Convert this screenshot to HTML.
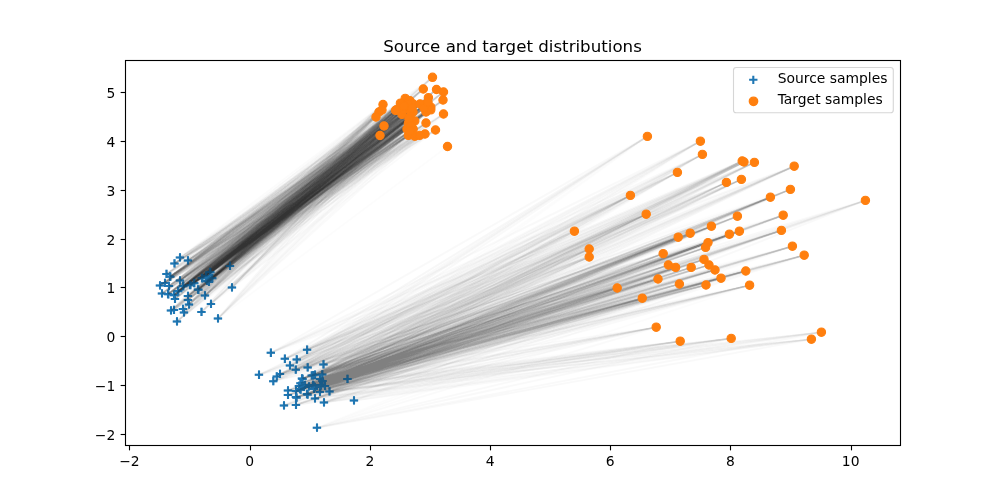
<!DOCTYPE html>
<html><head><meta charset="utf-8"><title>Source and target distributions</title>
<style>html,body{margin:0;padding:0;background:#fff}svg{display:block}text{font-family:'DejaVu Sans','Liberation Sans',sans-serif;fill:#000}</style></head>
<body>
<svg width="1000" height="500" viewBox="0 0 1000 500">
<rect width="1000" height="500" fill="#fff"/>
<defs><clipPath id="c"><rect x="125" y="60" width="775" height="385"/></clipPath></defs>
<g clip-path="url(#c)" stroke="#1f77b4" stroke-width="2.083" fill="none">
<path d="M175.8 257.5h8.3M180 253.3v8.3M183.8 260.5h8.3M188 256.3v8.3M170.3 263.5h8.3M174.5 259.3v8.3M162.3 274h8.3M166.5 269.8v8.3M165.8 276.5h8.3M170 272.3v8.3M175.8 280.5h8.3M180 276.3v8.3M160.8 283h8.3M165 278.8v8.3M155.8 285.5h8.3M160 281.3v8.3M164.8 286h8.3M169 281.8v8.3M227.8 287.5h8.3M232 283.3v8.3M225.8 266h8.3M230 261.8v8.3M205.8 272h8.3M210 267.8v8.3M201.8 276h8.3M206 271.8v8.3M207.8 278h8.3M212 273.8v8.3M204.8 282h8.3M209 277.8v8.3M197.8 278h8.3M202 273.8v8.3M189.8 283h8.3M194 278.8v8.3M185.8 285h8.3M190 280.8v8.3M193.8 289.5h8.3M198 285.3v8.3M178.8 286h8.3M183 281.8v8.3M157.8 293.5h8.3M162 289.3v8.3M206.8 304h8.3M211 299.8v8.3M197.3 312h8.3M201.5 307.8v8.3M213.8 318.5h8.3M218 314.3v8.3M172.8 321.5h8.3M177 317.3v8.3M166.8 310.5h8.3M171 306.3v8.3M169.8 310h8.3M174 305.8v8.3M178.8 309h8.3M183 304.8v8.3M179.8 312.5h8.3M184 308.3v8.3M184.8 304.5h8.3M189 300.3v8.3M163.8 294h8.3M168 289.8v8.3M169.8 295h8.3M174 290.8v8.3M170.8 299h8.3M175 294.8v8.3M173.8 291h8.3M178 286.8v8.3M183.8 296h8.3M188 291.8v8.3M183.8 300h8.3M188 295.8v8.3M200.8 295.5h8.3M205 291.3v8.3M206.2 272.3h8.3M210.4 268.1v8.3M202.1 276.2h8.3M206.3 272v8.3M208.1 278.2h8.3M212.3 274v8.3M170.1 295.3h8.3M174.3 291.1v8.3M198.1 278.3h8.3M202.3 274.1v8.3M174.1 291.3h8.3M178.3 287.1v8.3M202.8 281h8.3M207 276.8v8.3M164.1 294.3h8.3M168.3 290.1v8.3M186.2 285.2h8.3M190.4 281v8.3M190.1 283.2h8.3M194.3 279v8.3M194.2 289.8h8.3M198.4 285.6v8.3M179.1 286.3h8.3M183.3 282.1v8.3M166.1 276.8h8.3M170.3 272.6v8.3M266.7 352.8h8.3M270.9 348.6v8.3M302.9 349.8h8.3M307.1 345.6v8.3M280.7 358.8h8.3M284.9 354.6v8.3M292.6 359.5h8.3M296.8 355.3v8.3M285.8 365.5h8.3M290 361.3v8.3M291.6 369.7h8.3M295.8 365.5v8.3M303.5 367.5h8.3M307.7 363.3v8.3M319.3 364.5h8.3M323.5 360.3v8.3M254.8 374.8h8.3M259 370.6v8.3M275.8 374h8.3M280 369.8v8.3M272.6 376.5h8.3M276.8 372.3v8.3M269.1 381.2h8.3M273.3 377v8.3M297.8 378.5h8.3M302 374.3v8.3M309.1 375.3h8.3M313.3 371.1v8.3M318.1 374.5h8.3M322.3 370.3v8.3M315.8 379h8.3M320 374.8v8.3M296.3 383.3h8.3M300.5 379.1v8.3M343.3 379h8.3M347.5 374.8v8.3M300.8 385h8.3M305 380.8v8.3M308.8 385h8.3M313 380.8v8.3M316.8 385h8.3M321 380.8v8.3M283.8 390.5h8.3M288 386.3v8.3M283.8 395h8.3M288 390.8v8.3M291.8 391h8.3M296 386.8v8.3M295.8 389h8.3M300 384.8v8.3M302.8 394h8.3M307 389.8v8.3M309.8 389h8.3M314 384.8v8.3M315.8 392h8.3M320 387.8v8.3M325.3 391.5h8.3M329.5 387.3v8.3M310.8 398.5h8.3M315 394.3v8.3M291.8 397h8.3M296 392.8v8.3M279.8 405.5h8.3M284 401.3v8.3M291.8 405h8.3M296 400.8v8.3M319.8 402.5h8.3M324 398.3v8.3M349.8 400.5h8.3M354 396.3v8.3M312.8 427.7h8.3M317 423.5v8.3M294.8 386h8.3M299 381.8v8.3M299.8 387h8.3M304 382.8v8.3M304.8 386.5h8.3M309 382.3v8.3M310.8 387h8.3M315 382.8v8.3M316.3 386.5h8.3M320.5 382.3v8.3M320.8 386h8.3M325 381.8v8.3M318.3 381h8.3M322.5 376.8v8.3M307.6 375.5h8.3M311.8 371.3v8.3M310.8 374.8h8.3M315 370.6v8.3M298.4 379h8.3M302.6 374.8v8.3M309.4 385.6h8.3M313.6 381.4v8.3M292.4 397.6h8.3M296.6 393.4v8.3M296.4 389.6h8.3M300.6 385.4v8.3M303.4 394.6h8.3M307.6 390.4v8.3"/>
</g>
<defs><filter id="fu" filterUnits="userSpaceOnUse" x="0" y="0" width="1000" height="500" color-interpolation-filters="sRGB"><feComponentTransfer><feFuncA type="table" tableValues="0 0.05 0.1 0.15 0.2 0.25 0.3 0.35 0.4 0.45 0.5 0.55 0.6 0.65 0.7 0.75 0.8 0.8 0.8 0.8 0.8"/></feComponentTransfer></filter><filter id="fl" filterUnits="userSpaceOnUse" x="0" y="0" width="1000" height="500" color-interpolation-filters="sRGB"><feComponentTransfer><feFuncA type="table" tableValues="0 0.05 0.1 0.15 0.2 0.25 0.3 0.35 0.4 0.45 0.5 0.5 0.5 0.5 0.5 0.5 0.5 0.5 0.5 0.5 0.5"/></feComponentTransfer></filter></defs>
<g clip-path="url(#c)">
<g filter="url(#fu)" fill="none" stroke="#000" stroke-width="2.083" stroke-linecap="butt">
<g stroke-opacity=".004"><path d="M180 257.5L379 112"/><path d="M180 257.5L407 129"/></g>
<g stroke-opacity=".008"><path d="M180 257.5L436.5 89.5"/><path d="M180 257.5L384 126"/><path d="M180 257.5L395.6 110.4"/><path d="M180 257.5L413 112"/><path d="M180 257.5L402 114.4"/><path d="M180 257.5L396.4 109.8"/><path d="M180 257.5L408.4 123.4"/><path d="M180 257.5L412 133"/><path d="M174.5 263.5L443.5 114"/></g>
<g stroke-opacity=".012"><path d="M180 257.5L426 123"/><path d="M180 257.5L405.2 98.4"/><path d="M180 257.5L410 100.8"/><path d="M180 257.5L413.2 104"/><path d="M180 257.5L400.4 103.2"/><path d="M180 257.5L406 108"/><path d="M180 257.5L410 109.8"/><path d="M180 257.5L408.4 135.4"/><path d="M180 257.5L412 108"/><path d="M188 260.5L419.6 135.4"/><path d="M174.5 263.5L413.2 129"/><path d="M218 318.5L447.5 146.5"/></g>
<g stroke-opacity=".016"><path d="M180 257.5L423.3 89"/><path d="M180 257.5L383 104.5"/><path d="M180 257.5L382 110"/><path d="M180 257.5L428.4 97.6"/><path d="M174.5 263.5L432.5 77.3"/><path d="M174.5 263.5L410 117"/><path d="M174.5 263.5L409 119"/><path d="M166.5 274L425 134"/><path d="M166.5 274L414.8 136.2"/></g>
<g stroke-opacity=".02"><path d="M188 260.5L423.3 89"/><path d="M188 260.5L443.5 92"/><path d="M188 260.5L379 112"/><path d="M188 260.5L435.5 130"/><path d="M188 260.5L428.4 97.6"/><path d="M188 260.5L410 117"/><path d="M188 260.5L407 129"/><path d="M188 260.5L410 131"/><path d="M174.5 263.5L403.6 109.8"/><path d="M174.5 263.5L411 126"/><path d="M166.5 274L384 126"/><path d="M166.5 274L376 117"/><path d="M166.5 274L413.2 129"/><path d="M166.5 274L409 119"/><path d="M170 276.5L423.3 89"/><path d="M170 276.5L443 100"/><path d="M170 276.5L443.5 114"/><path d="M170 276.5L380 135.5"/><path d="M170 276.5L395.6 110.4"/><path d="M170 276.5L426 112"/><path d="M170 276.5L402 114.4"/><path d="M170 276.5L396.4 109.8"/><path d="M170 276.5L414.8 121"/><path d="M170 276.5L412 133"/><path d="M180 280.5L443 100"/><path d="M180 280.5L443.5 114"/><path d="M180 280.5L384 126"/><path d="M180 280.5L405.2 98.4"/><path d="M180 280.5L410 100.8"/><path d="M180 280.5L426 104"/><path d="M180 280.5L426 112"/><path d="M165 283L426 112"/><path d="M160 285.5L443.5 92"/><path d="M160 285.5L380 135.5"/><path d="M160 285.5L382 110"/><path d="M160 285.5L420 104"/><path d="M169 286L423.3 89"/><path d="M169 286L436.5 89.5"/><path d="M169 286L435.5 130"/><path d="M169 286L424 108"/><path d="M169 286L410 131"/><path d="M232 287.5L425 134"/><path d="M232 287.5L400.4 103.2"/><path d="M232 287.5L413 112"/><path d="M232 287.5L402 114.4"/><path d="M232 287.5L420 104"/><path d="M232 287.5L424 108"/><path d="M230 266L443.5 92"/><path d="M230 266L383 104.5"/><path d="M230 266L426 123"/><path d="M230 266L400.4 103.2"/><path d="M230 266L428.4 97.6"/><path d="M230 266L408 104"/><path d="M210 272L443.5 114"/><path d="M210 272L376 117"/><path d="M210 272L413.2 129"/><path d="M210 272L408.4 135.4"/><path d="M206 276L443.5 114"/><path d="M206 276L384 126"/><path d="M206 276L400.4 103.2"/><path d="M206 276L408.4 135.4"/><path d="M212 278L376 117"/><path d="M212 278L395.6 110.4"/><path d="M212 278L396.4 109.8"/><path d="M212 278L414.8 136.2"/><path d="M212 278L412 133"/><path d="M209 282L423.3 89"/><path d="M209 282L435.5 130"/><path d="M209 282L413.2 104"/><path d="M209 282L406 108"/><path d="M209 282L408.4 123.4"/><path d="M209 282L408.4 135.4"/><path d="M209 282L414.8 121"/><path d="M202 278L425 134"/><path d="M202 278L382 110"/><path d="M202 278L428.4 97.6"/><path d="M202 278L407 129"/><path d="M194 283L423.3 89"/><path d="M194 283L443 100"/><path d="M194 283L379 112"/><path d="M194 283L435.5 130"/><path d="M194 283L380 135.5"/><path d="M194 283L405.2 98.4"/><path d="M190 285L425 134"/><path d="M198 289.5L423.3 89"/><path d="M198 289.5L443.5 92"/><path d="M198 289.5L379 112"/><path d="M198 289.5L443.5 114"/><path d="M198 289.5L395.6 110.4"/><path d="M198 289.5L396.4 109.8"/><path d="M198 289.5L413.2 129"/><path d="M198 289.5L410 131"/><path d="M183 286L443.5 92"/><path d="M183 286L425 134"/><path d="M183 286L430.8 107.2"/><path d="M183 286L430.8 109.8"/><path d="M183 286L428 102"/><path d="M162 293.5L443.5 92"/><path d="M162 293.5L426 123"/><path d="M162 293.5L384 126"/><path d="M162 293.5L380 135.5"/><path d="M162 293.5L420 104"/><path d="M162 293.5L408.4 135.4"/><path d="M162 293.5L424 108"/><path d="M211 304L435.5 130"/><path d="M211 304L382 110"/><path d="M201.5 312L379 112"/><path d="M201.5 312L405.2 98.4"/><path d="M201.5 312L426 104"/><path d="M201.5 312L426 112"/><path d="M201.5 312L428 102"/><path d="M201.5 312L410 131"/><path d="M218 318.5L443 100"/><path d="M218 318.5L443.5 114"/><path d="M218 318.5L413.2 104"/><path d="M218 318.5L410 109.8"/><path d="M218 318.5L430.8 109.8"/><path d="M218 318.5L414.8 136.2"/><path d="M218 318.5L410 117"/><path d="M218 318.5L407 129"/><path d="M218 318.5L412 133"/><path d="M177 321.5L383 104.5"/><path d="M177 321.5L395.6 110.4"/><path d="M177 321.5L430.8 107.2"/><path d="M177 321.5L406 108"/><path d="M177 321.5L430.8 109.8"/><path d="M177 321.5L408.4 135.4"/><path d="M177 321.5L419.6 135.4"/><path d="M177 321.5L412 108"/><path d="M177 321.5L411 126"/><path d="M171 310.5L383 104.5"/><path d="M171 310.5L376 117"/><path d="M171 310.5L382 110"/><path d="M171 310.5L400.4 103.2"/><path d="M171 310.5L430.8 109.8"/><path d="M171 310.5L420 104"/><path d="M171 310.5L413.2 129"/><path d="M171 310.5L412 133"/><path d="M171 310.5L411 126"/><path d="M171 310.5L410 131"/><path d="M174 310L443.5 92"/><path d="M174 310L405.2 98.4"/><path d="M174 310L414.8 136.2"/><path d="M174 310L404 106"/><path d="M183 309L376 117"/><path d="M183 309L382 110"/><path d="M183 309L404 106"/><path d="M184 312.5L425 134"/><path d="M184 312.5L380 135.5"/><path d="M184 312.5L382 110"/><path d="M184 312.5L413.2 104"/><path d="M184 312.5L428.4 97.6"/><path d="M184 312.5L403.6 109.8"/><path d="M184 312.5L410 109.8"/><path d="M184 312.5L413.2 129"/><path d="M184 312.5L408.4 135.4"/><path d="M184 312.5L414.8 136.2"/><path d="M189 304.5L379 112"/><path d="M189 304.5L435.5 130"/><path d="M189 304.5L419.6 135.4"/><path d="M189 304.5L424 108"/><path d="M189 304.5L428 102"/><path d="M168 294L443.5 114"/><path d="M168 294L428.4 97.6"/><path d="M175 299L435.5 130"/><path d="M175 299L412 133"/><path d="M178 291L432.5 77.3"/><path d="M178 291L443.5 114"/><path d="M178 291L428.4 97.6"/><path d="M188 296L436.5 89.5"/><path d="M188 296L383 104.5"/><path d="M188 296L410 100.8"/><path d="M188 296L400.4 103.2"/><path d="M188 296L396.4 109.8"/><path d="M188 296L408.4 135.4"/><path d="M188 296L414.8 136.2"/><path d="M188 296L419.6 135.4"/><path d="M188 296L408 104"/><path d="M188 296L404 106"/><path d="M188 296L410 131"/><path d="M188 300L443 100"/><path d="M188 300L383 104.5"/><path d="M188 300L425 134"/><path d="M188 300L384 126"/><path d="M205 295.5L436.5 89.5"/><path d="M205 295.5L443.5 92"/><path d="M205 295.5L443.5 114"/><path d="M205 295.5L426 123"/><path d="M205 295.5L384 126"/><path d="M205 295.5L376 117"/><path d="M205 295.5L405.2 98.4"/><path d="M205 295.5L426 104"/><path d="M205 295.5L430.8 107.2"/><path d="M205 295.5L408.4 123.4"/><path d="M205 295.5L419.6 135.4"/><path d="M205 295.5L410 117"/><path d="M205 295.5L414.8 121"/><path d="M205 295.5L409 119"/><path d="M205 295.5L412 108"/><path d="M210.4 272.3L436.5 89.5"/><path d="M210.4 272.3L443.5 92"/><path d="M210.4 272.3L407 129"/><path d="M210.4 272.3L411 126"/><path d="M210.4 272.3L410 131"/><path d="M206.3 276.2L380 135.5"/><path d="M206.3 276.2L405.2 98.4"/><path d="M206.3 276.2L410 100.8"/><path d="M212.3 278.2L383 104.5"/><path d="M212.3 278.2L443.5 114"/><path d="M212.3 278.2L425 134"/><path d="M212.3 278.2L405.2 98.4"/><path d="M212.3 278.2L396.4 109.8"/><path d="M212.3 278.2L413.2 129"/><path d="M212.3 278.2L419.6 135.4"/><path d="M212.3 278.2L407 129"/><path d="M174.3 295.3L443.5 92"/><path d="M174.3 295.3L414.8 136.2"/><path d="M174.3 295.3L419.6 135.4"/><path d="M202.3 278.3L436.5 89.5"/><path d="M202.3 278.3L379 112"/><path d="M202.3 278.3L426 123"/><path d="M202.3 278.3L400.4 103.2"/><path d="M202.3 278.3L414.8 136.2"/><path d="M178.3 291.3L435.5 130"/><path d="M178.3 291.3L426 123"/><path d="M178.3 291.3L419.6 135.4"/><path d="M178.3 291.3L412 133"/><path d="M207 281L436.5 89.5"/><path d="M207 281L435.5 130"/><path d="M207 281L413.2 104"/><path d="M207 281L430.8 109.8"/><path d="M207 281L408 104"/><path d="M207 281L411 126"/><path d="M168.3 294.3L432.5 77.3"/><path d="M168.3 294.3L384 126"/><path d="M168.3 294.3L428.4 97.6"/><path d="M190.4 285.2L432.5 77.3"/><path d="M194.3 283.2L432.5 77.3"/><path d="M194.3 283.2L423.3 89"/><path d="M194.3 283.2L436.5 89.5"/><path d="M194.3 283.2L426 123"/><path d="M194.3 283.2L425 134"/><path d="M194.3 283.2L419.6 135.4"/><path d="M194.3 283.2L412 133"/><path d="M194.3 283.2L411 126"/><path d="M198.4 289.8L379 112"/><path d="M198.4 289.8L382 110"/><path d="M198.4 289.8L426 112"/><path d="M183.3 286.3L435.5 130"/><path d="M183.3 286.3L414.8 136.2"/><path d="M170.3 276.8L426 112"/><path d="M170.3 276.8L419.6 135.4"/><path d="M170.3 276.8L424 108"/></g>
<g stroke-opacity=".024"><path d="M180 257.5L426 104"/><path d="M180 257.5L404 106"/><path d="M188 260.5L436.5 89.5"/><path d="M188 260.5L405.2 98.4"/><path d="M188 260.5L426 104"/><path d="M188 260.5L406 108"/><path d="M188 260.5L410 109.8"/><path d="M188 260.5L420 104"/><path d="M188 260.5L408 104"/><path d="M188 260.5L412 108"/><path d="M188 260.5L404 106"/><path d="M174.5 263.5L405.2 98.4"/><path d="M174.5 263.5L410 100.8"/><path d="M174.5 263.5L400.4 103.2"/><path d="M174.5 263.5L395.6 110.4"/><path d="M174.5 263.5L430.8 107.2"/><path d="M174.5 263.5L426 112"/><path d="M174.5 263.5L413 112"/><path d="M174.5 263.5L402 114.4"/><path d="M174.5 263.5L396.4 109.8"/><path d="M174.5 263.5L410 109.8"/><path d="M174.5 263.5L430.8 109.8"/><path d="M174.5 263.5L420 104"/><path d="M174.5 263.5L414.8 121"/><path d="M174.5 263.5L408 104"/><path d="M174.5 263.5L424 108"/><path d="M174.5 263.5L428 102"/><path d="M166.5 274L443 100"/><path d="M166.5 274L383 104.5"/><path d="M166.5 274L426 123"/><path d="M166.5 274L382 110"/><path d="M166.5 274L413.2 104"/><path d="M166.5 274L406 108"/><path d="M166.5 274L403.6 109.8"/><path d="M166.5 274L408.4 123.4"/><path d="M166.5 274L412 108"/><path d="M170 276.5L379 112"/><path d="M170 276.5L410 100.8"/><path d="M170 276.5L413.2 104"/><path d="M170 276.5L400.4 103.2"/><path d="M170 276.5L428.4 97.6"/><path d="M170 276.5L413 112"/><path d="M170 276.5L403.6 109.8"/><path d="M170 276.5L430.8 109.8"/><path d="M170 276.5L420 104"/><path d="M170 276.5L408.4 123.4"/><path d="M170 276.5L414.8 136.2"/><path d="M170 276.5L410 117"/><path d="M170 276.5L408 104"/><path d="M170 276.5L424 108"/><path d="M170 276.5L411 126"/><path d="M170 276.5L410 131"/><path d="M180 280.5L425 134"/><path d="M180 280.5L376 117"/><path d="M180 280.5L413.2 104"/><path d="M180 280.5L400.4 103.2"/><path d="M180 280.5L395.6 110.4"/><path d="M180 280.5L402 114.4"/><path d="M180 280.5L420 104"/><path d="M180 280.5L408.4 123.4"/><path d="M180 280.5L419.6 135.4"/><path d="M180 280.5L410 117"/><path d="M180 280.5L414.8 121"/><path d="M180 280.5L407 129"/><path d="M180 280.5L408 104"/><path d="M165 283L379 112"/><path d="M165 283L426 123"/><path d="M165 283L376 117"/><path d="M165 283L382 110"/><path d="M165 283L413.2 104"/><path d="M165 283L400.4 103.2"/><path d="M165 283L395.6 110.4"/><path d="M165 283L430.8 107.2"/><path d="M165 283L406 108"/><path d="M165 283L396.4 109.8"/><path d="M165 283L413.2 129"/><path d="M165 283L408.4 135.4"/><path d="M165 283L414.8 121"/><path d="M165 283L408 104"/><path d="M165 283L411 126"/><path d="M160 285.5L432.5 77.3"/><path d="M160 285.5L383 104.5"/><path d="M160 285.5L425 134"/><path d="M160 285.5L376 117"/><path d="M160 285.5L405.2 98.4"/><path d="M160 285.5L413.2 104"/><path d="M160 285.5L400.4 103.2"/><path d="M160 285.5L413 112"/><path d="M160 285.5L402 114.4"/><path d="M160 285.5L403.6 109.8"/><path d="M160 285.5L408.4 123.4"/><path d="M160 285.5L419.6 135.4"/><path d="M160 285.5L410 117"/><path d="M160 285.5L414.8 121"/><path d="M160 285.5L407 129"/><path d="M160 285.5L409 119"/><path d="M160 285.5L404 106"/><path d="M160 285.5L428 102"/><path d="M169 286L426 123"/><path d="M169 286L405.2 98.4"/><path d="M169 286L410 100.8"/><path d="M169 286L428.4 97.6"/><path d="M169 286L413 112"/><path d="M169 286L402 114.4"/><path d="M169 286L403.6 109.8"/><path d="M169 286L410 109.8"/><path d="M169 286L430.8 109.8"/><path d="M169 286L413.2 129"/><path d="M169 286L414.8 136.2"/><path d="M169 286L407 129"/><path d="M169 286L412 133"/><path d="M169 286L409 119"/><path d="M169 286L408 104"/><path d="M169 286L412 108"/><path d="M169 286L404 106"/><path d="M169 286L411 126"/><path d="M232 287.5L432.5 77.3"/><path d="M232 287.5L426 123"/><path d="M230 266L423.3 89"/><path d="M230 266L436.5 89.5"/><path d="M230 266L426 112"/><path d="M230 266L396.4 109.8"/><path d="M230 266L410 109.8"/><path d="M230 266L430.8 109.8"/><path d="M230 266L411 126"/><path d="M210 272L432.5 77.3"/><path d="M210 272L423.3 89"/><path d="M210 272L443 100"/><path d="M210 272L413.2 104"/><path d="M210 272L428.4 97.6"/><path d="M210 272L406 108"/><path d="M210 272L403.6 109.8"/><path d="M210 272L414.8 121"/><path d="M206 276L426 123"/><path d="M206 276L405.2 98.4"/><path d="M206 276L402 114.4"/><path d="M206 276L408 104"/><path d="M206 276L412 108"/><path d="M206 276L404 106"/><path d="M206 276L411 126"/><path d="M206 276L410 131"/><path d="M212 278L432.5 77.3"/><path d="M212 278L443.5 92"/><path d="M212 278L443 100"/><path d="M212 278L400.4 103.2"/><path d="M212 278L406 108"/><path d="M212 278L403.6 109.8"/><path d="M212 278L410 117"/><path d="M212 278L404 106"/><path d="M209 282L443 100"/><path d="M209 282L428.4 97.6"/><path d="M209 282L424 108"/><path d="M209 282L428 102"/><path d="M202 278L443.5 92"/><path d="M202 278L410 100.8"/><path d="M202 278L413.2 104"/><path d="M202 278L400.4 103.2"/><path d="M202 278L395.6 110.4"/><path d="M202 278L406 108"/><path d="M202 278L402 114.4"/><path d="M202 278L396.4 109.8"/><path d="M202 278L408.4 123.4"/><path d="M202 278L413.2 129"/><path d="M202 278L412 108"/><path d="M202 278L428 102"/><path d="M194 283L443.5 92"/><path d="M194 283L382 110"/><path d="M194 283L400.4 103.2"/><path d="M194 283L428.4 97.6"/><path d="M194 283L402 114.4"/><path d="M194 283L403.6 109.8"/><path d="M194 283L413.2 129"/><path d="M194 283L404 106"/><path d="M194 283L411 126"/><path d="M190 285L436.5 89.5"/><path d="M190 285L443 100"/><path d="M190 285L384 126"/><path d="M190 285L410 100.8"/><path d="M190 285L395.6 110.4"/><path d="M190 285L430.8 107.2"/><path d="M190 285L402 114.4"/><path d="M190 285L396.4 109.8"/><path d="M190 285L403.6 109.8"/><path d="M190 285L407 129"/><path d="M190 285L412 133"/><path d="M190 285L428 102"/><path d="M198 289.5L410 100.8"/><path d="M198 289.5L400.4 103.2"/><path d="M198 289.5L408.4 123.4"/><path d="M198 289.5L408 104"/><path d="M183 286L423.3 89"/><path d="M183 286L443 100"/><path d="M183 286L383 104.5"/><path d="M183 286L426 123"/><path d="M183 286L380 135.5"/><path d="M183 286L426 104"/><path d="M183 286L404 106"/><path d="M183 286L424 108"/><path d="M183 286L410 131"/><path d="M162 293.5L383 104.5"/><path d="M162 293.5L396.4 109.8"/><path d="M162 293.5L413.2 129"/><path d="M162 293.5L410 117"/><path d="M162 293.5L412 133"/><path d="M162 293.5L409 119"/><path d="M162 293.5L411 126"/><path d="M162 293.5L410 131"/><path d="M211 304L408.4 123.4"/><path d="M211 304L413.2 129"/><path d="M211 304L409 119"/><path d="M201.5 312L414.8 121"/><path d="M201.5 312L411 126"/><path d="M177 321.5L407 129"/><path d="M177 321.5L410 131"/><path d="M171 310.5L379 112"/><path d="M171 310.5L426 104"/><path d="M171 310.5L403.6 109.8"/><path d="M171 310.5L414.8 121"/><path d="M171 310.5L409 119"/><path d="M174 310L426 123"/><path d="M174 310L413.2 104"/><path d="M174 310L426 104"/><path d="M174 310L406 108"/><path d="M174 310L403.6 109.8"/><path d="M174 310L420 104"/><path d="M174 310L407 129"/><path d="M174 310L412 133"/><path d="M183 309L405.2 98.4"/><path d="M183 309L413.2 104"/><path d="M183 309L395.6 110.4"/><path d="M183 309L406 108"/><path d="M183 309L403.6 109.8"/><path d="M183 309L420 104"/><path d="M183 309L408.4 135.4"/><path d="M183 309L407 129"/><path d="M184 312.5L400.4 103.2"/><path d="M184 312.5L412 133"/><path d="M189 304.5L380 135.5"/><path d="M189 304.5L410 100.8"/><path d="M189 304.5L402 114.4"/><path d="M189 304.5L410 109.8"/><path d="M189 304.5L413.2 129"/><path d="M189 304.5L410 117"/><path d="M189 304.5L414.8 121"/><path d="M189 304.5L409 119"/><path d="M189 304.5L412 108"/><path d="M168 294L436.5 89.5"/><path d="M168 294L379 112"/><path d="M168 294L405.2 98.4"/><path d="M168 294L410 100.8"/><path d="M168 294L400.4 103.2"/><path d="M168 294L426 104"/><path d="M168 294L406 108"/><path d="M168 294L413 112"/><path d="M168 294L396.4 109.8"/><path d="M168 294L408.4 123.4"/><path d="M168 294L414.8 121"/><path d="M168 294L407 129"/><path d="M168 294L412 108"/><path d="M168 294L404 106"/><path d="M168 294L410 131"/><path d="M174 295L436.5 89.5"/><path d="M174 295L383 104.5"/><path d="M174 295L379 112"/><path d="M174 295L413.2 104"/><path d="M174 295L395.6 110.4"/><path d="M174 295L426 104"/><path d="M174 295L430.8 107.2"/><path d="M174 295L426 112"/><path d="M174 295L406 108"/><path d="M174 295L413 112"/><path d="M174 295L410 109.8"/><path d="M174 295L430.8 109.8"/><path d="M174 295L420 104"/><path d="M174 295L413.2 129"/><path d="M174 295L424 108"/><path d="M174 295L410 131"/><path d="M175 299L383 104.5"/><path d="M175 299L384 126"/><path d="M175 299L376 117"/><path d="M175 299L410 100.8"/><path d="M175 299L395.6 110.4"/><path d="M175 299L406 108"/><path d="M175 299L396.4 109.8"/><path d="M175 299L410 109.8"/><path d="M175 299L408.4 123.4"/><path d="M175 299L407 129"/><path d="M175 299L408 104"/><path d="M175 299L404 106"/><path d="M178 291L426 123"/><path d="M178 291L376 117"/><path d="M178 291L405.2 98.4"/><path d="M178 291L410 100.8"/><path d="M178 291L413.2 104"/><path d="M178 291L395.6 110.4"/><path d="M178 291L426 112"/><path d="M178 291L430.8 109.8"/><path d="M178 291L407 129"/><path d="M178 291L408 104"/><path d="M178 291L412 108"/><path d="M178 291L404 106"/><path d="M178 291L428 102"/><path d="M178 291L410 131"/><path d="M188 296L384 126"/><path d="M188 296L376 117"/><path d="M188 296L382 110"/><path d="M188 296L413.2 104"/><path d="M188 296L395.6 110.4"/><path d="M188 296L426 112"/><path d="M188 296L406 108"/><path d="M188 300L426 123"/><path d="M188 300L410 100.8"/><path d="M188 300L406 108"/><path d="M188 300L408.4 123.4"/><path d="M188 300L408 104"/><path d="M188 300L412 108"/><path d="M188 300L411 126"/><path d="M188 300L410 131"/><path d="M205 295.5L423.3 89"/><path d="M205 295.5L428.4 97.6"/><path d="M205 295.5L426 112"/><path d="M205 295.5L413 112"/><path d="M205 295.5L402 114.4"/><path d="M210.4 272.3L423.3 89"/><path d="M210.4 272.3L410 100.8"/><path d="M210.4 272.3L413.2 104"/><path d="M210.4 272.3L395.6 110.4"/><path d="M210.4 272.3L428.4 97.6"/><path d="M210.4 272.3L406 108"/><path d="M210.4 272.3L396.4 109.8"/><path d="M210.4 272.3L410 109.8"/><path d="M210.4 272.3L414.8 121"/><path d="M210.4 272.3L404 106"/><path d="M206.3 276.2L423.3 89"/><path d="M206.3 276.2L406 108"/><path d="M206.3 276.2L403.6 109.8"/><path d="M206.3 276.2L420 104"/><path d="M206.3 276.2L408.4 123.4"/><path d="M206.3 276.2L413.2 129"/><path d="M206.3 276.2L410 117"/><path d="M206.3 276.2L414.8 121"/><path d="M206.3 276.2L409 119"/><path d="M206.3 276.2L408 104"/><path d="M212.3 278.2L423.3 89"/><path d="M212.3 278.2L380 135.5"/><path d="M212.3 278.2L413.2 104"/><path d="M212.3 278.2L413 112"/><path d="M212.3 278.2L410 109.8"/><path d="M212.3 278.2L408 104"/><path d="M212.3 278.2L404 106"/><path d="M174.3 295.3L423.3 89"/><path d="M174.3 295.3L426 123"/><path d="M174.3 295.3L384 126"/><path d="M174.3 295.3L382 110"/><path d="M174.3 295.3L405.2 98.4"/><path d="M174.3 295.3L410 100.8"/><path d="M174.3 295.3L400.4 103.2"/><path d="M174.3 295.3L396.4 109.8"/><path d="M174.3 295.3L413.2 129"/><path d="M174.3 295.3L408.4 135.4"/><path d="M174.3 295.3L408 104"/><path d="M174.3 295.3L412 108"/><path d="M174.3 295.3L404 106"/><path d="M202.3 278.3L443 100"/><path d="M202.3 278.3L383 104.5"/><path d="M202.3 278.3L405.2 98.4"/><path d="M202.3 278.3L410 100.8"/><path d="M202.3 278.3L403.6 109.8"/><path d="M202.3 278.3L410 109.8"/><path d="M202.3 278.3L409 119"/><path d="M202.3 278.3L408 104"/><path d="M202.3 278.3L412 108"/><path d="M202.3 278.3L404 106"/><path d="M178.3 291.3L384 126"/><path d="M178.3 291.3L376 117"/><path d="M178.3 291.3L382 110"/><path d="M178.3 291.3L400.4 103.2"/><path d="M178.3 291.3L428.4 97.6"/><path d="M178.3 291.3L426 104"/><path d="M178.3 291.3L406 108"/><path d="M178.3 291.3L396.4 109.8"/><path d="M178.3 291.3L408 104"/><path d="M178.3 291.3L404 106"/><path d="M178.3 291.3L424 108"/><path d="M207 281L432.5 77.3"/><path d="M207 281L426 123"/><path d="M207 281L380 135.5"/><path d="M207 281L405.2 98.4"/><path d="M207 281L428.4 97.6"/><path d="M207 281L402 114.4"/><path d="M207 281L407 129"/><path d="M207 281L424 108"/><path d="M207 281L428 102"/><path d="M168.3 294.3L382 110"/><path d="M168.3 294.3L413.2 104"/><path d="M168.3 294.3L395.6 110.4"/><path d="M168.3 294.3L426 112"/><path d="M168.3 294.3L402 114.4"/><path d="M168.3 294.3L410 109.8"/><path d="M168.3 294.3L420 104"/><path d="M168.3 294.3L413.2 129"/><path d="M168.3 294.3L408.4 135.4"/><path d="M168.3 294.3L414.8 136.2"/><path d="M168.3 294.3L412 133"/><path d="M168.3 294.3L408 104"/><path d="M168.3 294.3L424 108"/><path d="M190.4 285.2L383 104.5"/><path d="M190.4 285.2L379 112"/><path d="M190.4 285.2L380 135.5"/><path d="M190.4 285.2L405.2 98.4"/><path d="M190.4 285.2L400.4 103.2"/><path d="M190.4 285.2L428.4 97.6"/><path d="M190.4 285.2L408 104"/><path d="M190.4 285.2L410 131"/><path d="M194.3 283.2L405.2 98.4"/><path d="M194.3 283.2L403.6 109.8"/><path d="M194.3 283.2L408.4 123.4"/><path d="M194.3 283.2L407 129"/><path d="M198.4 289.8L436.5 89.5"/><path d="M198.4 289.8L410 100.8"/><path d="M198.4 289.8L400.4 103.2"/><path d="M198.4 289.8L430.8 107.2"/><path d="M198.4 289.8L404 106"/><path d="M183.3 286.3L423.3 89"/><path d="M183.3 286.3L379 112"/><path d="M183.3 286.3L380 135.5"/><path d="M183.3 286.3L405.2 98.4"/><path d="M183.3 286.3L410 100.8"/><path d="M183.3 286.3L413.2 104"/><path d="M183.3 286.3L400.4 103.2"/><path d="M183.3 286.3L395.6 110.4"/><path d="M183.3 286.3L430.8 107.2"/><path d="M183.3 286.3L396.4 109.8"/><path d="M183.3 286.3L420 104"/><path d="M183.3 286.3L413.2 129"/><path d="M183.3 286.3L408.4 135.4"/><path d="M183.3 286.3L407 129"/><path d="M183.3 286.3L412 133"/><path d="M170.3 276.8L384 126"/><path d="M170.3 276.8L410 100.8"/><path d="M170.3 276.8L395.6 110.4"/><path d="M170.3 276.8L430.8 107.2"/><path d="M170.3 276.8L406 108"/><path d="M170.3 276.8L396.4 109.8"/><path d="M170.3 276.8L410 109.8"/><path d="M170.3 276.8L408.4 135.4"/><path d="M170.3 276.8L412 133"/><path d="M170.3 276.8L409 119"/><path d="M170.3 276.8L412 108"/><path d="M170.3 276.8L404 106"/></g>
<g stroke-opacity=".028"><path d="M170 276.5L428 102"/><path d="M180 280.5L430.8 107.2"/><path d="M180 280.5L403.6 109.8"/><path d="M180 280.5L412 108"/><path d="M180 280.5L428 102"/><path d="M232 287.5L410 100.8"/><path d="M232 287.5L403.6 109.8"/><path d="M232 287.5L408 104"/><path d="M230 266L410 100.8"/><path d="M230 266L430.8 107.2"/><path d="M230 266L428 102"/><path d="M210 272L402 114.4"/><path d="M210 272L430.8 109.8"/><path d="M210 272L410 117"/><path d="M210 272L409 119"/><path d="M206 276L443.5 92"/><path d="M206 276L426 112"/><path d="M206 276L396.4 109.8"/><path d="M212 278L413 112"/><path d="M212 278L402 114.4"/><path d="M212 278L410 109.8"/><path d="M212 278L412 108"/><path d="M209 282L436.5 89.5"/><path d="M209 282L395.6 110.4"/><path d="M209 282L403.6 109.8"/><path d="M209 282L420 104"/><path d="M209 282L409 119"/><path d="M202 278L426 104"/><path d="M202 278L426 112"/><path d="M202 278L413 112"/><path d="M202 278L420 104"/><path d="M202 278L409 119"/><path d="M194 283L430.8 107.2"/><path d="M190 285L420 104"/><path d="M198 289.5L426 112"/><path d="M198 289.5L410 109.8"/><path d="M198 289.5L430.8 109.8"/><path d="M198 289.5L410 117"/><path d="M198 289.5L412 108"/><path d="M198 289.5L428 102"/><path d="M183 286L403.6 109.8"/><path d="M183 286L410 117"/><path d="M183 286L409 119"/><path d="M183 286L411 126"/><path d="M162 293.5L382 110"/><path d="M162 293.5L406 108"/><path d="M162 293.5L413 112"/><path d="M162 293.5L410 109.8"/><path d="M201.5 312L395.6 110.4"/><path d="M218 318.5L404 106"/><path d="M177 321.5L396.4 109.8"/><path d="M171 310.5L410 109.8"/><path d="M171 310.5L408.4 123.4"/><path d="M171 310.5L412 108"/><path d="M183 309L384 126"/><path d="M184 312.5L408 104"/><path d="M189 304.5L404 106"/><path d="M168 294L430.8 109.8"/><path d="M174 295L403.6 109.8"/><path d="M174 295L428 102"/><path d="M175 299L420 104"/><path d="M175 299L414.8 121"/><path d="M178 291L408.4 135.4"/><path d="M188 296L428.4 97.6"/><path d="M188 296L430.8 107.2"/><path d="M188 296L402 114.4"/><path d="M188 296L408.4 123.4"/><path d="M188 296L414.8 121"/><path d="M188 296L412 108"/><path d="M188 300L405.2 98.4"/><path d="M188 300L426 104"/><path d="M188 300L410 117"/><path d="M188 300L424 108"/><path d="M205 295.5L406 108"/><path d="M205 295.5L396.4 109.8"/><path d="M205 295.5L420 104"/><path d="M210.4 272.3L443 100"/><path d="M210.4 272.3L430.8 107.2"/><path d="M210.4 272.3L413 112"/><path d="M210.4 272.3L430.8 109.8"/><path d="M210.4 272.3L420 104"/><path d="M210.4 272.3L410 117"/><path d="M206.3 276.2L443 100"/><path d="M206.3 276.2L426 104"/><path d="M206.3 276.2L426 112"/><path d="M206.3 276.2L410 109.8"/><path d="M206.3 276.2L430.8 109.8"/><path d="M206.3 276.2L428 102"/><path d="M206.3 276.2L411 126"/><path d="M212.3 278.2L409 119"/><path d="M212.3 278.2L412 108"/><path d="M212.3 278.2L428 102"/><path d="M174.3 295.3L430.8 109.8"/><path d="M174.3 295.3L411 126"/><path d="M202.3 278.3L395.6 110.4"/><path d="M202.3 278.3L426 112"/><path d="M202.3 278.3L413 112"/><path d="M202.3 278.3L424 108"/><path d="M207 281L413 112"/><path d="M207 281L410 117"/><path d="M207 281L409 119"/><path d="M168.3 294.3L408.4 123.4"/><path d="M190.4 285.2L426 104"/><path d="M194.3 283.2L428 102"/><path d="M194.3 283.2L410 131"/><path d="M198.4 289.8L384 126"/><path d="M198.4 289.8L413.2 104"/><path d="M198.4 289.8L428.4 97.6"/><path d="M198.4 289.8L402 114.4"/><path d="M198.4 289.8L403.6 109.8"/><path d="M198.4 289.8L410 117"/><path d="M198.4 289.8L409 119"/><path d="M170.3 276.8L426 104"/></g>
<g stroke-opacity=".032"><path d="M230 266L413 112"/><path d="M210 272L426 104"/><path d="M210 272L430.8 107.2"/><path d="M210 272L424 108"/><path d="M206 276L426 104"/><path d="M206 276L430.8 109.8"/><path d="M206 276L424 108"/><path d="M206 276L428 102"/><path d="M212 278L426 104"/><path d="M212 278L430.8 107.2"/><path d="M202 278L410 117"/><path d="M194 283L413.2 104"/><path d="M194 283L426 104"/><path d="M194 283L426 112"/><path d="M194 283L430.8 109.8"/><path d="M194 283L408.4 123.4"/><path d="M194 283L409 119"/><path d="M194 283L412 108"/><path d="M190 285L406 108"/><path d="M190 285L408.4 123.4"/><path d="M190 285L410 117"/><path d="M190 285L412 108"/><path d="M198 289.5L420 104"/><path d="M198 289.5L424 108"/><path d="M183 286L406 108"/><path d="M183 286L413 112"/><path d="M183 286L402 114.4"/><path d="M183 286L412 108"/><path d="M174 295L402 114.4"/><path d="M174 295L408.4 123.4"/><path d="M174 295L410 117"/><path d="M174 295L411 126"/><path d="M178 291L403.6 109.8"/><path d="M178 291L408.4 123.4"/><path d="M178 291L410 117"/><path d="M178 291L414.8 121"/><path d="M188 300L402 114.4"/><path d="M206.3 276.2L430.8 107.2"/><path d="M206.3 276.2L413 112"/><path d="M206.3 276.2L424 108"/><path d="M212.3 278.2L420 104"/><path d="M212.3 278.2L424 108"/><path d="M174.3 295.3L414.8 121"/><path d="M174.3 295.3L407 129"/><path d="M174.3 295.3L409 119"/><path d="M202.3 278.3L430.8 107.2"/><path d="M202.3 278.3L428 102"/><path d="M178.3 291.3L413 112"/><path d="M178.3 291.3L402 114.4"/><path d="M178.3 291.3L410 109.8"/><path d="M178.3 291.3L409 119"/><path d="M190.4 285.2L413.2 104"/><path d="M190.4 285.2L426 112"/><path d="M190.4 285.2L413 112"/><path d="M190.4 285.2L410 109.8"/><path d="M190.4 285.2L420 104"/><path d="M190.4 285.2L410 117"/><path d="M190.4 285.2L414.8 121"/><path d="M190.4 285.2L424 108"/><path d="M194.3 283.2L413 112"/><path d="M194.3 283.2L410 109.8"/><path d="M194.3 283.2L414.8 121"/><path d="M194.3 283.2L424 108"/><path d="M198.4 289.8L426 104"/><path d="M198.4 289.8L413 112"/><path d="M183.3 286.3L426 112"/><path d="M183.3 286.3L410 109.8"/><path d="M183.3 286.3L414.8 121"/><path d="M183.3 286.3L409 119"/><path d="M183.3 286.3L411 126"/></g>
</g>
<g filter="url(#fl)" fill="none" stroke="#000" stroke-width="2.083" stroke-linecap="butt">
<g stroke-opacity=".004"><path d="M270.9 352.8L742.2 161"/><path d="M270.9 352.8L744 162"/><path d="M270.9 352.8L754.4 162.4"/><path d="M270.9 352.8L726.4 182.4"/><path d="M270.9 352.8L741.4 179.4"/><path d="M270.9 352.8L678.2 237.2"/><path d="M307.1 349.8L737.4 216.2"/><path d="M307.1 349.8L711.4 226.2"/><path d="M284.9 358.8L729.4 234.2"/><path d="M284.9 358.8L708 242.6"/><path d="M284.9 358.8L705.6 247.4"/><path d="M290 365.5L617.2 288"/><path d="M295.8 369.7L745.8 271"/><path d="M295.8 369.7L721 278.2"/><path d="M307.7 367.5L865.4 200.4"/><path d="M307.7 367.5L792.4 246.2"/><path d="M322.5 381L821.4 332.2"/></g>
<g stroke-opacity=".008"><path d="M307.1 349.8L790.4 189.4"/><path d="M307.1 349.8L770.4 197.2"/><path d="M284.9 358.8L663.2 253.6"/><path d="M290 365.5L739.4 231.2"/><path d="M290 365.5L704 259.4"/><path d="M290 365.5L709 265"/><path d="M290 365.5L668.4 265"/><path d="M290 365.5L691.2 267.4"/><path d="M295.8 369.7L642.3 298.2"/><path d="M307.7 367.5L804.2 255.2"/><path d="M259 374.8L675.6 267.4"/><path d="M259 374.8L658 279"/><path d="M280 374L715 270"/><path d="M280 374L679.4 284"/><path d="M300.5 383.3L680.2 341.2"/><path d="M322.5 381L731.2 338.4"/></g>
<g stroke-opacity=".012"><path d="M307.1 349.8L783.2 215.2"/><path d="M284.9 358.8L754.4 162.4"/><path d="M284.9 358.8L726.4 182.4"/><path d="M284.9 358.8L741.4 179.4"/><path d="M284.9 358.8L770.4 197.2"/><path d="M284.9 358.8L737.4 216.2"/><path d="M284.9 358.8L574.4 231.2"/><path d="M284.9 358.8L589.2 257"/><path d="M284.9 358.8L678.2 237.2"/><path d="M296.8 359.5L794.2 166.2"/><path d="M296.8 359.5L646.2 214.2"/><path d="M296.8 359.5L711.4 226.2"/><path d="M296.8 359.5L690.2 233.2"/><path d="M290 365.5L794.2 166.2"/><path d="M290 365.5L790.4 189.4"/><path d="M290 365.5L574.4 231.2"/><path d="M290 365.5L690.2 233.2"/><path d="M290 365.5L678.2 237.2"/><path d="M290 365.5L705.6 247.4"/><path d="M295.8 369.7L770.4 197.2"/><path d="M295.8 369.7L783.2 215.2"/><path d="M295.8 369.7L690.2 233.2"/><path d="M295.8 369.7L678.2 237.2"/><path d="M295.8 369.7L729.4 234.2"/><path d="M295.8 369.7L781.4 230.4"/><path d="M295.8 369.7L708 242.6"/><path d="M295.8 369.7L668.4 265"/><path d="M295.8 369.7L658 279"/><path d="M307.7 367.5L729.4 234.2"/><path d="M307.7 367.5L691.2 267.4"/><path d="M323.5 364.5L792.4 246.2"/><path d="M259 374.8L663.2 253.6"/><path d="M280 374L700.4 141.2"/><path d="M280 374L702.4 154.4"/><path d="M280 374L726.4 182.4"/><path d="M280 374L737.4 216.2"/><path d="M280 374L690.2 233.2"/><path d="M280 374L729.4 234.2"/><path d="M280 374L739.4 231.2"/><path d="M280 374L708 242.6"/><path d="M280 374L709 265"/><path d="M280 374L668.4 265"/><path d="M280 374L675.6 267.4"/><path d="M280 374L706 285"/><path d="M280 374L617.2 288"/><path d="M276.8 376.5L702.4 154.4"/><path d="M276.8 376.5L705.6 247.4"/><path d="M276.8 376.5L704 259.4"/><path d="M276.8 376.5L668.4 265"/><path d="M276.8 376.5L675.6 267.4"/><path d="M276.8 376.5L658 279"/><path d="M273.3 381.2L690.2 233.2"/><path d="M273.3 381.2L678.2 237.2"/><path d="M273.3 381.2L705.6 247.4"/><path d="M273.3 381.2L715 270"/><path d="M273.3 381.2L668.4 265"/><path d="M273.3 381.2L658 279"/><path d="M273.3 381.2L679.4 284"/><path d="M273.3 381.2L706 285"/><path d="M302 378.5L647.4 136.4"/><path d="M302 378.5L702.4 154.4"/><path d="M302 378.5L742.2 161"/><path d="M302 378.5L744 162"/><path d="M302 378.5L754.4 162.4"/><path d="M302 378.5L677.4 172.4"/><path d="M302 378.5L741.4 179.4"/><path d="M302 378.5L737.4 216.2"/><path d="M302 378.5L729.4 234.2"/><path d="M302 378.5L739.4 231.2"/><path d="M302 378.5L708 242.6"/><path d="M302 378.5L704 259.4"/><path d="M302 378.5L709 265"/><path d="M302 378.5L668.4 265"/><path d="M302 378.5L721 278.2"/><path d="M302 378.5L706 285"/><path d="M302 378.5L749.6 285.2"/><path d="M302 378.5L656.2 327.2"/><path d="M313.3 375.3L702.4 154.4"/><path d="M313.3 375.3L711.4 226.2"/><path d="M313.3 375.3L729.4 234.2"/><path d="M313.3 375.3L781.4 230.4"/><path d="M313.3 375.3L749.6 285.2"/><path d="M322.3 374.5L700.4 141.2"/><path d="M322.3 374.5L702.4 154.4"/><path d="M322.3 374.5L677.4 172.4"/><path d="M322.3 374.5L646.2 214.2"/><path d="M322.3 374.5L690.2 233.2"/><path d="M322.3 374.5L678.2 237.2"/><path d="M322.3 374.5L729.4 234.2"/><path d="M322.3 374.5L739.4 231.2"/><path d="M322.3 374.5L706 285"/><path d="M320 379L700.4 141.2"/><path d="M320 379L702.4 154.4"/><path d="M320 379L865.4 200.4"/><path d="M320 379L711.4 226.2"/><path d="M300.5 383.3L700.4 141.2"/><path d="M300.5 383.3L677.4 172.4"/><path d="M300.5 383.3L726.4 182.4"/><path d="M300.5 383.3L790.4 189.4"/><path d="M300.5 383.3L646.2 214.2"/><path d="M300.5 383.3L737.4 216.2"/><path d="M300.5 383.3L574.4 231.2"/><path d="M300.5 383.3L589.2 249"/><path d="M300.5 383.3L589.2 257"/><path d="M300.5 383.3L729.4 234.2"/><path d="M300.5 383.3L617.2 288"/><path d="M300.5 383.3L642.3 298.2"/><path d="M347.5 379L749.6 285.2"/><path d="M347.5 379L811.4 339.2"/><path d="M305 385L742.2 161"/><path d="M305 385L744 162"/><path d="M305 385L677.4 172.4"/><path d="M305 385L741.4 179.4"/><path d="M305 385L770.4 197.2"/><path d="M305 385L737.4 216.2"/><path d="M305 385L589.2 249"/><path d="M305 385L729.4 234.2"/><path d="M305 385L739.4 231.2"/><path d="M305 385L663.2 253.6"/><path d="M305 385L715 270"/><path d="M305 385L668.4 265"/><path d="M305 385L675.6 267.4"/><path d="M305 385L745.8 271"/><path d="M305 385L721 278.2"/><path d="M305 385L658 279"/><path d="M313 385L754.4 162.4"/><path d="M313 385L794.2 166.2"/><path d="M313 385L677.4 172.4"/><path d="M313 385L741.4 179.4"/><path d="M313 385L790.4 189.4"/><path d="M313 385L770.4 197.2"/><path d="M313 385L646.2 214.2"/><path d="M313 385L783.2 215.2"/><path d="M313 385L690.2 233.2"/><path d="M313 385L708 242.6"/><path d="M313 385L705.6 247.4"/><path d="M313 385L804.2 255.2"/><path d="M313 385L704 259.4"/><path d="M313 385L709 265"/><path d="M313 385L715 270"/><path d="M313 385L691.2 267.4"/><path d="M313 385L721 278.2"/><path d="M313 385L706 285"/><path d="M313 385L749.6 285.2"/><path d="M321 385L742.2 161"/><path d="M321 385L677.4 172.4"/><path d="M321 385L865.4 200.4"/><path d="M321 385L711.4 226.2"/><path d="M321 385L708 242.6"/><path d="M321 385L705.6 247.4"/><path d="M321 385L663.2 253.6"/><path d="M321 385L709 265"/><path d="M321 385L715 270"/><path d="M321 385L721 278.2"/><path d="M321 385L731.2 338.4"/><path d="M321 385L811.4 339.2"/><path d="M288 390.5L646.2 214.2"/><path d="M288 390.5L706 285"/><path d="M288 390.5L749.6 285.2"/><path d="M288 395L678.2 237.2"/><path d="M288 395L706 285"/><path d="M296 391L726.4 182.4"/><path d="M296 391L737.4 216.2"/><path d="M296 391L574.4 231.2"/><path d="M296 391L589.2 249"/><path d="M296 391L589.2 257"/><path d="M296 391L690.2 233.2"/><path d="M296 391L708 242.6"/><path d="M296 391L705.6 247.4"/><path d="M296 391L704 259.4"/><path d="M296 391L709 265"/><path d="M296 391L715 270"/><path d="M296 391L721 278.2"/><path d="M300 389L702.4 154.4"/><path d="M300 389L630.4 195.4"/><path d="M300 389L783.2 215.2"/><path d="M300 389L589.2 257"/><path d="M300 389L690.2 233.2"/><path d="M300 389L729.4 234.2"/><path d="M300 389L745.8 271"/><path d="M300 389L721 278.2"/><path d="M300 389L731.2 338.4"/><path d="M307 394L726.4 182.4"/><path d="M307 394L646.2 214.2"/><path d="M307 394L589.2 249"/><path d="M307 394L690.2 233.2"/><path d="M307 394L739.4 231.2"/><path d="M307 394L708 242.6"/><path d="M307 394L705.6 247.4"/><path d="M307 394L663.2 253.6"/><path d="M307 394L668.4 265"/><path d="M307 394L642.3 298.2"/><path d="M314 389L702.4 154.4"/><path d="M314 389L744 162"/><path d="M314 389L754.4 162.4"/><path d="M314 389L737.4 216.2"/><path d="M314 389L783.2 215.2"/><path d="M314 389L711.4 226.2"/><path d="M314 389L690.2 233.2"/><path d="M314 389L663.2 253.6"/><path d="M314 389L804.2 255.2"/><path d="M314 389L668.4 265"/><path d="M314 389L658 279"/><path d="M314 389L821.4 332.2"/><path d="M320 392L744 162"/><path d="M320 392L741.4 179.4"/><path d="M320 392L737.4 216.2"/><path d="M320 392L783.2 215.2"/><path d="M320 392L678.2 237.2"/><path d="M320 392L729.4 234.2"/><path d="M320 392L739.4 231.2"/><path d="M320 392L708 242.6"/><path d="M320 392L705.6 247.4"/><path d="M320 392L663.2 253.6"/><path d="M320 392L709 265"/><path d="M320 392L691.2 267.4"/><path d="M320 392L679.4 284"/><path d="M320 392L706 285"/><path d="M320 392L731.2 338.4"/><path d="M329.5 391.5L742.2 161"/><path d="M329.5 391.5L754.4 162.4"/><path d="M329.5 391.5L726.4 182.4"/><path d="M329.5 391.5L790.4 189.4"/><path d="M329.5 391.5L729.4 234.2"/><path d="M329.5 391.5L705.6 247.4"/><path d="M329.5 391.5L715 270"/><path d="M329.5 391.5L731.2 338.4"/><path d="M315 398.5L711.4 226.2"/><path d="M315 398.5L690.2 233.2"/><path d="M315 398.5L678.2 237.2"/><path d="M315 398.5L729.4 234.2"/><path d="M315 398.5L739.4 231.2"/><path d="M315 398.5L708 242.6"/><path d="M315 398.5L705.6 247.4"/><path d="M315 398.5L792.4 246.2"/><path d="M315 398.5L804.2 255.2"/><path d="M315 398.5L668.4 265"/><path d="M315 398.5L658 279"/><path d="M315 398.5L679.4 284"/><path d="M315 398.5L656.2 327.2"/><path d="M296 397L646.2 214.2"/><path d="M296 397L589.2 257"/><path d="M296 397L678.2 237.2"/><path d="M296 397L704 259.4"/><path d="M296 397L709 265"/><path d="M296 397L715 270"/><path d="M296 397L721 278.2"/><path d="M296 397L731.2 338.4"/><path d="M284 405.5L574.4 231.2"/><path d="M284 405.5L589.2 249"/><path d="M284 405.5L709 265"/><path d="M284 405.5L691.2 267.4"/><path d="M284 405.5L731.2 338.4"/><path d="M296 405L589.2 257"/><path d="M296 405L690.2 233.2"/><path d="M296 405L708 242.6"/><path d="M296 405L715 270"/><path d="M296 405L668.4 265"/><path d="M296 405L675.6 267.4"/><path d="M296 405L691.2 267.4"/><path d="M296 405L721 278.2"/><path d="M324 402.5L790.4 189.4"/><path d="M324 402.5L783.2 215.2"/><path d="M324 402.5L663.2 253.6"/><path d="M324 402.5L715 270"/><path d="M317 427.7L679.4 284"/><path d="M317 427.7L749.6 285.2"/><path d="M299 386L646.2 214.2"/><path d="M299 386L737.4 216.2"/><path d="M299 386L589.2 257"/><path d="M299 386L729.4 234.2"/><path d="M299 386L792.4 246.2"/><path d="M299 386L709 265"/><path d="M299 386L715 270"/><path d="M299 386L721 278.2"/><path d="M299 386L706 285"/><path d="M299 386L656.2 327.2"/><path d="M299 386L680.2 341.2"/><path d="M299 386L731.2 338.4"/><path d="M304 387L754.4 162.4"/><path d="M304 387L589.2 249"/><path d="M304 387L711.4 226.2"/><path d="M304 387L729.4 234.2"/><path d="M304 387L745.8 271"/><path d="M304 387L721 278.2"/><path d="M304 387L749.6 285.2"/><path d="M304 387L642.3 298.2"/><path d="M309 386.5L702.4 154.4"/><path d="M309 386.5L741.4 179.4"/><path d="M309 386.5L790.4 189.4"/><path d="M309 386.5L630.4 195.4"/><path d="M309 386.5L770.4 197.2"/><path d="M309 386.5L737.4 216.2"/><path d="M309 386.5L783.2 215.2"/><path d="M309 386.5L589.2 257"/><path d="M309 386.5L711.4 226.2"/><path d="M309 386.5L678.2 237.2"/><path d="M309 386.5L792.4 246.2"/><path d="M309 386.5L804.2 255.2"/><path d="M309 386.5L668.4 265"/><path d="M309 386.5L675.6 267.4"/><path d="M309 386.5L691.2 267.4"/><path d="M309 386.5L679.4 284"/><path d="M309 386.5L706 285"/><path d="M309 386.5L749.6 285.2"/><path d="M309 386.5L642.3 298.2"/><path d="M309 386.5L731.2 338.4"/><path d="M309 386.5L821.4 332.2"/><path d="M315 387L790.4 189.4"/><path d="M315 387L770.4 197.2"/><path d="M315 387L737.4 216.2"/><path d="M315 387L711.4 226.2"/><path d="M315 387L708 242.6"/><path d="M315 387L705.6 247.4"/><path d="M315 387L704 259.4"/><path d="M315 387L709 265"/><path d="M315 387L658 279"/><path d="M315 387L679.4 284"/><path d="M315 387L706 285"/><path d="M320.5 386.5L702.4 154.4"/><path d="M320.5 386.5L794.2 166.2"/><path d="M320.5 386.5L741.4 179.4"/><path d="M320.5 386.5L646.2 214.2"/><path d="M320.5 386.5L708 242.6"/><path d="M320.5 386.5L705.6 247.4"/><path d="M320.5 386.5L704 259.4"/><path d="M320.5 386.5L709 265"/><path d="M320.5 386.5L715 270"/><path d="M320.5 386.5L721 278.2"/><path d="M320.5 386.5L731.2 338.4"/><path d="M320.5 386.5L811.4 339.2"/><path d="M325 386L754.4 162.4"/><path d="M325 386L741.4 179.4"/><path d="M325 386L721 278.2"/><path d="M325 386L811.4 339.2"/><path d="M325 386L821.4 332.2"/><path d="M322.5 381L700.4 141.2"/><path d="M322.5 381L677.4 172.4"/><path d="M322.5 381L726.4 182.4"/><path d="M322.5 381L711.4 226.2"/><path d="M311.8 375.5L702.4 154.4"/><path d="M311.8 375.5L677.4 172.4"/><path d="M311.8 375.5L711.4 226.2"/><path d="M311.8 375.5L690.2 233.2"/><path d="M311.8 375.5L729.4 234.2"/><path d="M311.8 375.5L781.4 230.4"/><path d="M311.8 375.5L708 242.6"/><path d="M311.8 375.5L704 259.4"/><path d="M311.8 375.5L709 265"/><path d="M311.8 375.5L668.4 265"/><path d="M311.8 375.5L675.6 267.4"/><path d="M311.8 375.5L691.2 267.4"/><path d="M311.8 375.5L745.8 271"/><path d="M311.8 375.5L658 279"/><path d="M311.8 375.5L679.4 284"/><path d="M315 374.8L647.4 136.4"/><path d="M315 374.8L700.4 141.2"/><path d="M315 374.8L630.4 195.4"/><path d="M315 374.8L729.4 234.2"/><path d="M315 374.8L739.4 231.2"/><path d="M315 374.8L663.2 253.6"/><path d="M315 374.8L792.4 246.2"/><path d="M315 374.8L715 270"/><path d="M315 374.8L721 278.2"/><path d="M302.6 379L702.4 154.4"/><path d="M302.6 379L742.2 161"/><path d="M302.6 379L744 162"/><path d="M302.6 379L754.4 162.4"/><path d="M302.6 379L677.4 172.4"/><path d="M302.6 379L741.4 179.4"/><path d="M302.6 379L770.4 197.2"/><path d="M302.6 379L646.2 214.2"/><path d="M302.6 379L729.4 234.2"/><path d="M302.6 379L739.4 231.2"/><path d="M302.6 379L663.2 253.6"/><path d="M302.6 379L715 270"/><path d="M302.6 379L668.4 265"/><path d="M302.6 379L721 278.2"/><path d="M302.6 379L656.2 327.2"/><path d="M313.6 385.6L790.4 189.4"/><path d="M313.6 385.6L630.4 195.4"/><path d="M313.6 385.6L770.4 197.2"/><path d="M313.6 385.6L865.4 200.4"/><path d="M313.6 385.6L646.2 214.2"/><path d="M313.6 385.6L711.4 226.2"/><path d="M313.6 385.6L690.2 233.2"/><path d="M313.6 385.6L704 259.4"/><path d="M313.6 385.6L709 265"/><path d="M313.6 385.6L715 270"/><path d="M313.6 385.6L691.2 267.4"/><path d="M313.6 385.6L721 278.2"/><path d="M313.6 385.6L706 285"/><path d="M313.6 385.6L821.4 332.2"/><path d="M296.6 397.6L589.2 257"/><path d="M296.6 397.6L711.4 226.2"/><path d="M296.6 397.6L690.2 233.2"/><path d="M296.6 397.6L678.2 237.2"/><path d="M296.6 397.6L704 259.4"/><path d="M296.6 397.6L709 265"/><path d="M296.6 397.6L715 270"/><path d="M296.6 397.6L721 278.2"/><path d="M300.6 389.6L677.4 172.4"/><path d="M300.6 389.6L646.2 214.2"/><path d="M300.6 389.6L574.4 231.2"/><path d="M300.6 389.6L589.2 249"/><path d="M300.6 389.6L711.4 226.2"/><path d="M300.6 389.6L729.4 234.2"/><path d="M300.6 389.6L708 242.6"/><path d="M300.6 389.6L749.6 285.2"/><path d="M300.6 389.6L680.2 341.2"/><path d="M307.6 394.6L726.4 182.4"/><path d="M307.6 394.6L737.4 216.2"/><path d="M307.6 394.6L690.2 233.2"/><path d="M307.6 394.6L729.4 234.2"/><path d="M307.6 394.6L739.4 231.2"/><path d="M307.6 394.6L811.4 339.2"/></g>
<g stroke-opacity=".016"><path d="M307.1 349.8L726.4 182.4"/><path d="M284.9 358.8L742.2 161"/><path d="M284.9 358.8L744 162"/><path d="M284.9 358.8L589.2 249"/><path d="M296.8 359.5L630.4 195.4"/><path d="M290 365.5L754.4 162.4"/><path d="M290 365.5L726.4 182.4"/><path d="M295.8 369.7L754.4 162.4"/><path d="M295.8 369.7L741.4 179.4"/><path d="M295.8 369.7L711.4 226.2"/><path d="M307.7 367.5L790.4 189.4"/><path d="M307.7 367.5L770.4 197.2"/><path d="M323.5 364.5L702.4 154.4"/><path d="M323.5 364.5L726.4 182.4"/><path d="M323.5 364.5L739.4 231.2"/><path d="M259 374.8L646.2 214.2"/><path d="M280 374L647.4 136.4"/><path d="M280 374L711.4 226.2"/><path d="M280 374L678.2 237.2"/><path d="M276.8 376.5L647.4 136.4"/><path d="M276.8 376.5L737.4 216.2"/><path d="M276.8 376.5L690.2 233.2"/><path d="M276.8 376.5L642.3 298.2"/><path d="M273.3 381.2L708 242.6"/><path d="M273.3 381.2L663.2 253.6"/><path d="M273.3 381.2L642.3 298.2"/><path d="M302 378.5L794.2 166.2"/><path d="M302 378.5L726.4 182.4"/><path d="M302 378.5L790.4 189.4"/><path d="M302 378.5L646.2 214.2"/><path d="M302 378.5L711.4 226.2"/><path d="M302 378.5L690.2 233.2"/><path d="M302 378.5L781.4 230.4"/><path d="M302 378.5L663.2 253.6"/><path d="M302 378.5L804.2 255.2"/><path d="M302 378.5L745.8 271"/><path d="M302 378.5L658 279"/><path d="M302 378.5L679.4 284"/><path d="M313.3 375.3L677.4 172.4"/><path d="M313.3 375.3L737.4 216.2"/><path d="M313.3 375.3L739.4 231.2"/><path d="M313.3 375.3L705.6 247.4"/><path d="M313.3 375.3L792.4 246.2"/><path d="M313.3 375.3L704 259.4"/><path d="M313.3 375.3L715 270"/><path d="M313.3 375.3L745.8 271"/><path d="M322.3 374.5L726.4 182.4"/><path d="M322.3 374.5L737.4 216.2"/><path d="M322.3 374.5L804.2 255.2"/><path d="M322.3 374.5L691.2 267.4"/><path d="M320 379L754.4 162.4"/><path d="M320 379L741.4 179.4"/><path d="M320 379L737.4 216.2"/><path d="M320 379L729.4 234.2"/><path d="M320 379L708 242.6"/><path d="M320 379L792.4 246.2"/><path d="M300.5 383.3L630.4 195.4"/><path d="M300.5 383.3L711.4 226.2"/><path d="M300.5 383.3L690.2 233.2"/><path d="M300.5 383.3L678.2 237.2"/><path d="M300.5 383.3L708 242.6"/><path d="M300.5 383.3L705.6 247.4"/><path d="M300.5 383.3L663.2 253.6"/><path d="M300.5 383.3L745.8 271"/><path d="M300.5 383.3L658 279"/><path d="M300.5 383.3L679.4 284"/><path d="M300.5 383.3L706 285"/><path d="M300.5 383.3L749.6 285.2"/><path d="M347.5 379L729.4 234.2"/><path d="M347.5 379L781.4 230.4"/><path d="M305 385L711.4 226.2"/><path d="M305 385L690.2 233.2"/><path d="M305 385L678.2 237.2"/><path d="M305 385L781.4 230.4"/><path d="M305 385L708 242.6"/><path d="M305 385L705.6 247.4"/><path d="M305 385L704 259.4"/><path d="M305 385L709 265"/><path d="M305 385L691.2 267.4"/><path d="M305 385L706 285"/><path d="M313 385L742.2 161"/><path d="M313 385L729.4 234.2"/><path d="M313 385L739.4 231.2"/><path d="M313 385L781.4 230.4"/><path d="M313 385L792.4 246.2"/><path d="M313 385L745.8 271"/><path d="M321 385L754.4 162.4"/><path d="M321 385L794.2 166.2"/><path d="M321 385L726.4 182.4"/><path d="M321 385L737.4 216.2"/><path d="M321 385L678.2 237.2"/><path d="M321 385L729.4 234.2"/><path d="M321 385L739.4 231.2"/><path d="M321 385L668.4 265"/><path d="M321 385L745.8 271"/><path d="M321 385L749.6 285.2"/><path d="M288 390.5L678.2 237.2"/><path d="M288 390.5L705.6 247.4"/><path d="M288 390.5L709 265"/><path d="M288 390.5L715 270"/><path d="M288 390.5L691.2 267.4"/><path d="M288 390.5L721 278.2"/><path d="M288 390.5L679.4 284"/><path d="M288 395L646.2 214.2"/><path d="M288 395L711.4 226.2"/><path d="M288 395L704 259.4"/><path d="M296 391L678.2 237.2"/><path d="M296 391L691.2 267.4"/><path d="M296 391L680.2 341.2"/><path d="M300 389L646.2 214.2"/><path d="M300 389L678.2 237.2"/><path d="M300 389L705.6 247.4"/><path d="M300 389L704 259.4"/><path d="M300 389L709 265"/><path d="M300 389L715 270"/><path d="M300 389L691.2 267.4"/><path d="M300 389L706 285"/><path d="M307 394L711.4 226.2"/><path d="M307 394L781.4 230.4"/><path d="M307 394L804.2 255.2"/><path d="M307 394L704 259.4"/><path d="M307 394L709 265"/><path d="M307 394L715 270"/><path d="M307 394L675.6 267.4"/><path d="M307 394L691.2 267.4"/><path d="M307 394L658 279"/><path d="M307 394L679.4 284"/><path d="M307 394L680.2 341.2"/><path d="M307 394L731.2 338.4"/><path d="M314 389L678.2 237.2"/><path d="M314 389L729.4 234.2"/><path d="M314 389L739.4 231.2"/><path d="M314 389L781.4 230.4"/><path d="M314 389L792.4 246.2"/><path d="M314 389L745.8 271"/><path d="M314 389L721 278.2"/><path d="M314 389L679.4 284"/><path d="M314 389L706 285"/><path d="M314 389L749.6 285.2"/><path d="M314 389L731.2 338.4"/><path d="M320 392L711.4 226.2"/><path d="M320 392L781.4 230.4"/><path d="M320 392L704 259.4"/><path d="M320 392L715 270"/><path d="M320 392L721 278.2"/><path d="M320 392L811.4 339.2"/><path d="M329.5 391.5L737.4 216.2"/><path d="M329.5 391.5L739.4 231.2"/><path d="M329.5 391.5L704 259.4"/><path d="M329.5 391.5L721 278.2"/><path d="M329.5 391.5L706 285"/><path d="M315 398.5L709 265"/><path d="M315 398.5L715 270"/><path d="M315 398.5L675.6 267.4"/><path d="M296 397L589.2 249"/><path d="M296 397L711.4 226.2"/><path d="M296 397L690.2 233.2"/><path d="M296 397L708 242.6"/><path d="M296 397L705.6 247.4"/><path d="M296 397L668.4 265"/><path d="M296 397L675.6 267.4"/><path d="M296 397L691.2 267.4"/><path d="M296 397L706 285"/><path d="M284 405.5L668.4 265"/><path d="M284 405.5L675.6 267.4"/><path d="M284 405.5L679.4 284"/><path d="M296 405L709 265"/><path d="M296 405L706 285"/><path d="M324 402.5L781.4 230.4"/><path d="M324 402.5L792.4 246.2"/><path d="M324 402.5L680.2 341.2"/><path d="M354 400.5L792.4 246.2"/><path d="M317 427.7L706 285"/><path d="M299 386L726.4 182.4"/><path d="M299 386L630.4 195.4"/><path d="M299 386L690.2 233.2"/><path d="M299 386L678.2 237.2"/><path d="M299 386L708 242.6"/><path d="M299 386L705.6 247.4"/><path d="M299 386L663.2 253.6"/><path d="M299 386L704 259.4"/><path d="M299 386L668.4 265"/><path d="M299 386L675.6 267.4"/><path d="M299 386L691.2 267.4"/><path d="M299 386L658 279"/><path d="M299 386L679.4 284"/><path d="M304 387L741.4 179.4"/><path d="M304 387L770.4 197.2"/><path d="M304 387L690.2 233.2"/><path d="M304 387L678.2 237.2"/><path d="M304 387L708 242.6"/><path d="M304 387L663.2 253.6"/><path d="M304 387L704 259.4"/><path d="M304 387L709 265"/><path d="M304 387L715 270"/><path d="M304 387L675.6 267.4"/><path d="M304 387L691.2 267.4"/><path d="M304 387L706 285"/><path d="M304 387L656.2 327.2"/><path d="M309 386.5L726.4 182.4"/><path d="M309 386.5L729.4 234.2"/><path d="M309 386.5L708 242.6"/><path d="M309 386.5L705.6 247.4"/><path d="M309 386.5L704 259.4"/><path d="M309 386.5L709 265"/><path d="M309 386.5L715 270"/><path d="M309 386.5L745.8 271"/><path d="M309 386.5L721 278.2"/><path d="M309 386.5L680.2 341.2"/><path d="M315 387L726.4 182.4"/><path d="M315 387L783.2 215.2"/><path d="M315 387L729.4 234.2"/><path d="M315 387L739.4 231.2"/><path d="M315 387L781.4 230.4"/><path d="M315 387L792.4 246.2"/><path d="M315 387L804.2 255.2"/><path d="M315 387L749.6 285.2"/><path d="M315 387L656.2 327.2"/><path d="M320.5 386.5L744 162"/><path d="M320.5 386.5L790.4 189.4"/><path d="M320.5 386.5L770.4 197.2"/><path d="M320.5 386.5L865.4 200.4"/><path d="M320.5 386.5L729.4 234.2"/><path d="M320.5 386.5L739.4 231.2"/><path d="M320.5 386.5L675.6 267.4"/><path d="M320.5 386.5L745.8 271"/><path d="M320.5 386.5L706 285"/><path d="M320.5 386.5L749.6 285.2"/><path d="M325 386L742.2 161"/><path d="M325 386L794.2 166.2"/><path d="M325 386L675.6 267.4"/><path d="M322.5 381L742.2 161"/><path d="M322.5 381L744 162"/><path d="M322.5 381L741.4 179.4"/><path d="M322.5 381L865.4 200.4"/><path d="M322.5 381L737.4 216.2"/><path d="M322.5 381L745.8 271"/><path d="M322.5 381L679.4 284"/><path d="M322.5 381L749.6 285.2"/><path d="M311.8 375.5L790.4 189.4"/><path d="M311.8 375.5L646.2 214.2"/><path d="M311.8 375.5L737.4 216.2"/><path d="M311.8 375.5L783.2 215.2"/><path d="M311.8 375.5L739.4 231.2"/><path d="M315 374.8L702.4 154.4"/><path d="M315 374.8L865.4 200.4"/><path d="M315 374.8L737.4 216.2"/><path d="M315 374.8L783.2 215.2"/><path d="M315 374.8L804.2 255.2"/><path d="M315 374.8L709 265"/><path d="M302.6 379L700.4 141.2"/><path d="M302.6 379L726.4 182.4"/><path d="M302.6 379L737.4 216.2"/><path d="M302.6 379L711.4 226.2"/><path d="M302.6 379L705.6 247.4"/><path d="M302.6 379L704 259.4"/><path d="M302.6 379L709 265"/><path d="M302.6 379L675.6 267.4"/><path d="M313.6 385.6L744 162"/><path d="M313.6 385.6L794.2 166.2"/><path d="M313.6 385.6L741.4 179.4"/><path d="M313.6 385.6L737.4 216.2"/><path d="M313.6 385.6L783.2 215.2"/><path d="M313.6 385.6L781.4 230.4"/><path d="M313.6 385.6L745.8 271"/><path d="M313.6 385.6L617.2 288"/><path d="M296.6 397.6L663.2 253.6"/><path d="M296.6 397.6L668.4 265"/><path d="M296.6 397.6L675.6 267.4"/><path d="M296.6 397.6L691.2 267.4"/><path d="M296.6 397.6L706 285"/><path d="M296.6 397.6L731.2 338.4"/><path d="M300.6 389.6L705.6 247.4"/><path d="M300.6 389.6L663.2 253.6"/><path d="M300.6 389.6L804.2 255.2"/><path d="M300.6 389.6L704 259.4"/><path d="M300.6 389.6L715 270"/><path d="M300.6 389.6L691.2 267.4"/><path d="M300.6 389.6L721 278.2"/><path d="M300.6 389.6L679.4 284"/><path d="M300.6 389.6L706 285"/><path d="M300.6 389.6L642.3 298.2"/><path d="M300.6 389.6L656.2 327.2"/><path d="M300.6 389.6L731.2 338.4"/><path d="M307.6 394.6L708 242.6"/><path d="M307.6 394.6L705.6 247.4"/><path d="M307.6 394.6L792.4 246.2"/><path d="M307.6 394.6L704 259.4"/><path d="M307.6 394.6L709 265"/><path d="M307.6 394.6L715 270"/><path d="M307.6 394.6L691.2 267.4"/><path d="M307.6 394.6L745.8 271"/><path d="M307.6 394.6L679.4 284"/><path d="M307.6 394.6L642.3 298.2"/><path d="M307.6 394.6L656.2 327.2"/><path d="M307.6 394.6L731.2 338.4"/></g>
<g stroke-opacity=".02"><path d="M270.9 352.8L646.2 214.2"/><path d="M307.1 349.8L741.4 179.4"/><path d="M284.9 358.8L646.2 214.2"/><path d="M296.8 359.5L726.4 182.4"/><path d="M296.8 359.5L741.4 179.4"/><path d="M290 365.5L744 162"/><path d="M295.8 369.7L742.2 161"/><path d="M295.8 369.7L744 162"/><path d="M295.8 369.7L726.4 182.4"/><path d="M295.8 369.7L646.2 214.2"/><path d="M307.7 367.5L794.2 166.2"/><path d="M323.5 364.5L737.4 216.2"/><path d="M323.5 364.5L711.4 226.2"/><path d="M259 374.8L617.2 288"/><path d="M280 374L677.4 172.4"/><path d="M280 374L741.4 179.4"/><path d="M276.8 376.5L677.4 172.4"/><path d="M276.8 376.5L678.2 237.2"/><path d="M276.8 376.5L663.2 253.6"/><path d="M276.8 376.5L617.2 288"/><path d="M302 378.5L700.4 141.2"/><path d="M302 378.5L691.2 267.4"/><path d="M313.3 375.3L742.2 161"/><path d="M313.3 375.3L744 162"/><path d="M313.3 375.3L754.4 162.4"/><path d="M313.3 375.3L794.2 166.2"/><path d="M313.3 375.3L726.4 182.4"/><path d="M313.3 375.3L741.4 179.4"/><path d="M313.3 375.3L790.4 189.4"/><path d="M313.3 375.3L770.4 197.2"/><path d="M313.3 375.3L708 242.6"/><path d="M322.3 374.5L742.2 161"/><path d="M322.3 374.5L744 162"/><path d="M322.3 374.5L741.4 179.4"/><path d="M322.3 374.5L865.4 200.4"/><path d="M322.3 374.5L711.4 226.2"/><path d="M320 379L690.2 233.2"/><path d="M320 379L739.4 231.2"/><path d="M320 379L691.2 267.4"/><path d="M320 379L745.8 271"/><path d="M300.5 383.3L739.4 231.2"/><path d="M300.5 383.3L792.4 246.2"/><path d="M300.5 383.3L709 265"/><path d="M300.5 383.3L715 270"/><path d="M300.5 383.3L668.4 265"/><path d="M300.5 383.3L675.6 267.4"/><path d="M300.5 383.3L721 278.2"/><path d="M347.5 379L792.4 246.2"/><path d="M305 385L642.3 298.2"/><path d="M313 385L737.4 216.2"/><path d="M313 385L678.2 237.2"/><path d="M313 385L663.2 253.6"/><path d="M321 385L783.2 215.2"/><path d="M321 385L690.2 233.2"/><path d="M321 385L781.4 230.4"/><path d="M321 385L804.2 255.2"/><path d="M321 385L691.2 267.4"/><path d="M288 390.5L574.4 231.2"/><path d="M288 390.5L711.4 226.2"/><path d="M288 390.5L704 259.4"/><path d="M288 390.5L668.4 265"/><path d="M288 390.5L656.2 327.2"/><path d="M288 390.5L680.2 341.2"/><path d="M288 395L589.2 249"/><path d="M288 395L690.2 233.2"/><path d="M288 395L668.4 265"/><path d="M288 395L675.6 267.4"/><path d="M288 395L749.6 285.2"/><path d="M296 391L711.4 226.2"/><path d="M296 391L663.2 253.6"/><path d="M296 391L668.4 265"/><path d="M296 391L675.6 267.4"/><path d="M296 391L745.8 271"/><path d="M296 391L658 279"/><path d="M296 391L679.4 284"/><path d="M296 391L617.2 288"/><path d="M296 391L656.2 327.2"/><path d="M300 389L737.4 216.2"/><path d="M300 389L617.2 288"/><path d="M300 389L642.3 298.2"/><path d="M307 394L678.2 237.2"/><path d="M307 394L721 278.2"/><path d="M307 394L706 285"/><path d="M307 394L656.2 327.2"/><path d="M314 389L741.4 179.4"/><path d="M314 389L708 242.6"/><path d="M314 389L705.6 247.4"/><path d="M314 389L691.2 267.4"/><path d="M320 392L792.4 246.2"/><path d="M320 392L745.8 271"/><path d="M320 392L821.4 332.2"/><path d="M329.5 391.5L770.4 197.2"/><path d="M329.5 391.5L783.2 215.2"/><path d="M315 398.5L704 259.4"/><path d="M315 398.5L691.2 267.4"/><path d="M315 398.5L721 278.2"/><path d="M315 398.5L706 285"/><path d="M315 398.5L680.2 341.2"/><path d="M296 397L663.2 253.6"/><path d="M296 397L679.4 284"/><path d="M284 405.5L589.2 257"/><path d="M284 405.5L663.2 253.6"/><path d="M296 405L658 279"/><path d="M296 405L679.4 284"/><path d="M324 402.5L804.2 255.2"/><path d="M324 402.5L721 278.2"/><path d="M317 427.7L656.2 327.2"/><path d="M299 386L617.2 288"/><path d="M304 387L739.4 231.2"/><path d="M304 387L668.4 265"/><path d="M304 387L658 279"/><path d="M309 386.5L781.4 230.4"/><path d="M320.5 386.5L783.2 215.2"/><path d="M320.5 386.5L781.4 230.4"/><path d="M320.5 386.5L804.2 255.2"/><path d="M320.5 386.5L691.2 267.4"/><path d="M325 386L865.4 200.4"/><path d="M325 386L737.4 216.2"/><path d="M325 386L739.4 231.2"/><path d="M322.5 381L754.4 162.4"/><path d="M322.5 381L794.2 166.2"/><path d="M322.5 381L770.4 197.2"/><path d="M322.5 381L690.2 233.2"/><path d="M322.5 381L729.4 234.2"/><path d="M322.5 381L708 242.6"/><path d="M322.5 381L663.2 253.6"/><path d="M322.5 381L675.6 267.4"/><path d="M311.8 375.5L742.2 161"/><path d="M311.8 375.5L744 162"/><path d="M311.8 375.5L754.4 162.4"/><path d="M311.8 375.5L794.2 166.2"/><path d="M311.8 375.5L726.4 182.4"/><path d="M311.8 375.5L741.4 179.4"/><path d="M311.8 375.5L770.4 197.2"/><path d="M311.8 375.5L705.6 247.4"/><path d="M315 374.8L726.4 182.4"/><path d="M315 374.8L770.4 197.2"/><path d="M315 374.8L675.6 267.4"/><path d="M302.6 379L630.4 195.4"/><path d="M313.6 385.6L729.4 234.2"/><path d="M313.6 385.6L739.4 231.2"/><path d="M313.6 385.6L708 242.6"/><path d="M313.6 385.6L705.6 247.4"/><path d="M296.6 397.6L729.4 234.2"/><path d="M296.6 397.6L679.4 284"/><path d="M300.6 389.6L678.2 237.2"/><path d="M307.6 394.6L668.4 265"/><path d="M307.6 394.6L721 278.2"/><path d="M307.6 394.6L658 279"/><path d="M307.6 394.6L706 285"/><path d="M307.6 394.6L680.2 341.2"/></g>
<g stroke-opacity=".024"><path d="M270.9 352.8L647.4 136.4"/><path d="M270.9 352.8L700.4 141.2"/><path d="M270.9 352.8L702.4 154.4"/><path d="M270.9 352.8L677.4 172.4"/><path d="M270.9 352.8L630.4 195.4"/><path d="M270.9 352.8L574.4 231.2"/><path d="M307.1 349.8L647.4 136.4"/><path d="M307.1 349.8L700.4 141.2"/><path d="M307.1 349.8L702.4 154.4"/><path d="M307.1 349.8L742.2 161"/><path d="M307.1 349.8L744 162"/><path d="M307.1 349.8L754.4 162.4"/><path d="M307.1 349.8L677.4 172.4"/><path d="M284.9 358.8L700.4 141.2"/><path d="M284.9 358.8L702.4 154.4"/><path d="M284.9 358.8L677.4 172.4"/><path d="M296.8 359.5L647.4 136.4"/><path d="M296.8 359.5L700.4 141.2"/><path d="M296.8 359.5L702.4 154.4"/><path d="M296.8 359.5L742.2 161"/><path d="M296.8 359.5L744 162"/><path d="M296.8 359.5L754.4 162.4"/><path d="M296.8 359.5L677.4 172.4"/><path d="M290 365.5L647.4 136.4"/><path d="M290 365.5L700.4 141.2"/><path d="M290 365.5L702.4 154.4"/><path d="M290 365.5L677.4 172.4"/><path d="M290 365.5L630.4 195.4"/><path d="M290 365.5L646.2 214.2"/><path d="M295.8 369.7L647.4 136.4"/><path d="M295.8 369.7L700.4 141.2"/><path d="M295.8 369.7L702.4 154.4"/><path d="M295.8 369.7L677.4 172.4"/><path d="M307.7 367.5L700.4 141.2"/><path d="M307.7 367.5L702.4 154.4"/><path d="M307.7 367.5L742.2 161"/><path d="M307.7 367.5L744 162"/><path d="M307.7 367.5L754.4 162.4"/><path d="M307.7 367.5L726.4 182.4"/><path d="M307.7 367.5L741.4 179.4"/><path d="M323.5 364.5L742.2 161"/><path d="M323.5 364.5L744 162"/><path d="M323.5 364.5L754.4 162.4"/><path d="M323.5 364.5L794.2 166.2"/><path d="M323.5 364.5L741.4 179.4"/><path d="M323.5 364.5L790.4 189.4"/><path d="M323.5 364.5L865.4 200.4"/><path d="M323.5 364.5L783.2 215.2"/><path d="M259 374.8L630.4 195.4"/><path d="M280 374L742.2 161"/><path d="M280 374L630.4 195.4"/><path d="M280 374L646.2 214.2"/><path d="M280 374L574.4 231.2"/><path d="M280 374L589.2 249"/><path d="M280 374L589.2 257"/><path d="M280 374L663.2 253.6"/><path d="M276.8 376.5L630.4 195.4"/><path d="M276.8 376.5L646.2 214.2"/><path d="M273.3 381.2L630.4 195.4"/><path d="M273.3 381.2L574.4 231.2"/><path d="M322.3 374.5L790.4 189.4"/><path d="M322.3 374.5L781.4 230.4"/><path d="M320 379L744 162"/><path d="M320 379L726.4 182.4"/><path d="M320 379L770.4 197.2"/><path d="M320 379L781.4 230.4"/><path d="M320 379L804.2 255.2"/><path d="M300.5 383.3L704 259.4"/><path d="M347.5 379L770.4 197.2"/><path d="M347.5 379L783.2 215.2"/><path d="M347.5 379L804.2 255.2"/><path d="M313 385L675.6 267.4"/><path d="M321 385L790.4 189.4"/><path d="M321 385L770.4 197.2"/><path d="M321 385L792.4 246.2"/><path d="M288 390.5L589.2 249"/><path d="M288 390.5L589.2 257"/><path d="M288 390.5L663.2 253.6"/><path d="M288 390.5L642.3 298.2"/><path d="M288 395L589.2 257"/><path d="M288 395L663.2 253.6"/><path d="M288 395L721 278.2"/><path d="M288 395L656.2 327.2"/><path d="M296 391L739.4 231.2"/><path d="M296 391L706 285"/><path d="M296 391L642.3 298.2"/><path d="M300 389L668.4 265"/><path d="M300 389L658 279"/><path d="M300 389L679.4 284"/><path d="M300 389L749.6 285.2"/><path d="M307 394L745.8 271"/><path d="M307 394L749.6 285.2"/><path d="M314 389L704 259.4"/><path d="M314 389L709 265"/><path d="M314 389L715 270"/><path d="M320 392L804.2 255.2"/><path d="M320 392L675.6 267.4"/><path d="M320 392L749.6 285.2"/><path d="M329.5 391.5L865.4 200.4"/><path d="M329.5 391.5L792.4 246.2"/><path d="M329.5 391.5L804.2 255.2"/><path d="M329.5 391.5L745.8 271"/><path d="M329.5 391.5L749.6 285.2"/><path d="M315 398.5L731.2 338.4"/><path d="M315 398.5L811.4 339.2"/><path d="M315 398.5L821.4 332.2"/><path d="M296 397L658 279"/><path d="M296 397L642.3 298.2"/><path d="M296 397L656.2 327.2"/><path d="M296 397L680.2 341.2"/><path d="M284 405.5L658 279"/><path d="M284 405.5L617.2 288"/><path d="M284 405.5L656.2 327.2"/><path d="M284 405.5L680.2 341.2"/><path d="M296 405L680.2 341.2"/><path d="M296 405L731.2 338.4"/><path d="M324 402.5L749.6 285.2"/><path d="M324 402.5L811.4 339.2"/><path d="M324 402.5L821.4 332.2"/><path d="M354 400.5L865.4 200.4"/><path d="M354 400.5L804.2 255.2"/><path d="M354 400.5L811.4 339.2"/><path d="M354 400.5L821.4 332.2"/><path d="M317 427.7L680.2 341.2"/><path d="M317 427.7L731.2 338.4"/><path d="M317 427.7L811.4 339.2"/><path d="M317 427.7L821.4 332.2"/><path d="M304 387L679.4 284"/><path d="M315 387L715 270"/><path d="M315 387L745.8 271"/><path d="M320.5 386.5L737.4 216.2"/><path d="M320.5 386.5L792.4 246.2"/><path d="M325 386L770.4 197.2"/><path d="M325 386L781.4 230.4"/><path d="M325 386L792.4 246.2"/><path d="M325 386L804.2 255.2"/><path d="M325 386L745.8 271"/><path d="M322.5 381L790.4 189.4"/><path d="M322.5 381L705.6 247.4"/><path d="M322.5 381L804.2 255.2"/><path d="M311.8 375.5L678.2 237.2"/><path d="M315 374.8L790.4 189.4"/><path d="M302.6 379L783.2 215.2"/><path d="M302.6 379L690.2 233.2"/><path d="M302.6 379L678.2 237.2"/><path d="M302.6 379L781.4 230.4"/><path d="M302.6 379L708 242.6"/><path d="M313.6 385.6L675.6 267.4"/><path d="M296.6 397.6L658 279"/><path d="M296.6 397.6L642.3 298.2"/><path d="M296.6 397.6L656.2 327.2"/><path d="M296.6 397.6L680.2 341.2"/><path d="M300.6 389.6L742.2 161"/><path d="M300.6 389.6L739.4 231.2"/><path d="M300.6 389.6L792.4 246.2"/><path d="M300.6 389.6L709 265"/><path d="M300.6 389.6L668.4 265"/><path d="M300.6 389.6L658 279"/><path d="M307.6 394.6L749.6 285.2"/></g>
<g stroke-opacity=".028"><path d="M307.1 349.8L794.2 166.2"/><path d="M284.9 358.8L630.4 195.4"/><path d="M295.8 369.7L630.4 195.4"/><path d="M323.5 364.5L677.4 172.4"/><path d="M259 374.8L574.4 231.2"/><path d="M276.8 376.5L589.2 257"/><path d="M273.3 381.2L589.2 249"/><path d="M273.3 381.2L589.2 257"/><path d="M302 378.5L617.2 288"/><path d="M322.3 374.5L794.2 166.2"/><path d="M320 379L794.2 166.2"/><path d="M300.5 383.3L794.2 166.2"/><path d="M288 390.5L658 279"/><path d="M288 395L658 279"/><path d="M288 395L679.4 284"/><path d="M288 395L680.2 341.2"/><path d="M296 391L783.2 215.2"/><path d="M307 394L811.4 339.2"/><path d="M329.5 391.5L821.4 332.2"/><path d="M315 398.5L745.8 271"/><path d="M296 405L617.2 288"/><path d="M324 402.5L745.8 271"/><path d="M324 402.5L731.2 338.4"/><path d="M299 386L744 162"/><path d="M325 386L783.2 215.2"/><path d="M322.5 381L781.4 230.4"/><path d="M322.5 381L792.4 246.2"/><path d="M315 374.8L742.2 161"/><path d="M315 374.8L754.4 162.4"/><path d="M315 374.8L741.4 179.4"/><path d="M307.6 394.6L790.4 189.4"/></g>
<g stroke-opacity=".032"><path d="M284.9 358.8L647.4 136.4"/><path d="M259 374.8L589.2 249"/><path d="M259 374.8L589.2 257"/><path d="M276.8 376.5L574.4 231.2"/><path d="M276.8 376.5L589.2 249"/><path d="M273.3 381.2L646.2 214.2"/><path d="M302 378.5L770.4 197.2"/><path d="M322.3 374.5L770.4 197.2"/><path d="M322.3 374.5L783.2 215.2"/><path d="M320 379L783.2 215.2"/><path d="M347.5 379L794.2 166.2"/><path d="M347.5 379L790.4 189.4"/><path d="M288 395L617.2 288"/><path d="M300 389L790.4 189.4"/><path d="M314 389L642.3 298.2"/><path d="M320 392L865.4 200.4"/><path d="M329.5 391.5L781.4 230.4"/><path d="M315 398.5L749.6 285.2"/><path d="M315 398.5L642.3 298.2"/><path d="M296 397L617.2 288"/><path d="M296 405L642.3 298.2"/><path d="M324 402.5L656.2 327.2"/><path d="M299 386L754.4 162.4"/><path d="M304 387L617.2 288"/><path d="M296.6 397.6L617.2 288"/></g>
</g>
</g>
<g clip-path="url(#c)" stroke="#1f77b4" stroke-opacity="0.5" stroke-width="2.083" fill="none">
<path d="M175.8 257.5h8.3M180 253.3v8.3M183.8 260.5h8.3M188 256.3v8.3M170.3 263.5h8.3M174.5 259.3v8.3M162.3 274h8.3M166.5 269.8v8.3M165.8 276.5h8.3M170 272.3v8.3M175.8 280.5h8.3M180 276.3v8.3M160.8 283h8.3M165 278.8v8.3M155.8 285.5h8.3M160 281.3v8.3M164.8 286h8.3M169 281.8v8.3M227.8 287.5h8.3M232 283.3v8.3M225.8 266h8.3M230 261.8v8.3M205.8 272h8.3M210 267.8v8.3M201.8 276h8.3M206 271.8v8.3M207.8 278h8.3M212 273.8v8.3M204.8 282h8.3M209 277.8v8.3M197.8 278h8.3M202 273.8v8.3M189.8 283h8.3M194 278.8v8.3M185.8 285h8.3M190 280.8v8.3M193.8 289.5h8.3M198 285.3v8.3M178.8 286h8.3M183 281.8v8.3M157.8 293.5h8.3M162 289.3v8.3M206.8 304h8.3M211 299.8v8.3M197.3 312h8.3M201.5 307.8v8.3M213.8 318.5h8.3M218 314.3v8.3M172.8 321.5h8.3M177 317.3v8.3M166.8 310.5h8.3M171 306.3v8.3M169.8 310h8.3M174 305.8v8.3M178.8 309h8.3M183 304.8v8.3M179.8 312.5h8.3M184 308.3v8.3M184.8 304.5h8.3M189 300.3v8.3M163.8 294h8.3M168 289.8v8.3M169.8 295h8.3M174 290.8v8.3M170.8 299h8.3M175 294.8v8.3M173.8 291h8.3M178 286.8v8.3M183.8 296h8.3M188 291.8v8.3M183.8 300h8.3M188 295.8v8.3M200.8 295.5h8.3M205 291.3v8.3M206.2 272.3h8.3M210.4 268.1v8.3M202.1 276.2h8.3M206.3 272v8.3M208.1 278.2h8.3M212.3 274v8.3M170.1 295.3h8.3M174.3 291.1v8.3M198.1 278.3h8.3M202.3 274.1v8.3M174.1 291.3h8.3M178.3 287.1v8.3M202.8 281h8.3M207 276.8v8.3M164.1 294.3h8.3M168.3 290.1v8.3M186.2 285.2h8.3M190.4 281v8.3M190.1 283.2h8.3M194.3 279v8.3M194.2 289.8h8.3M198.4 285.6v8.3M179.1 286.3h8.3M183.3 282.1v8.3M166.1 276.8h8.3M170.3 272.6v8.3M266.7 352.8h8.3M270.9 348.6v8.3M302.9 349.8h8.3M307.1 345.6v8.3M280.7 358.8h8.3M284.9 354.6v8.3M292.6 359.5h8.3M296.8 355.3v8.3M285.8 365.5h8.3M290 361.3v8.3M291.6 369.7h8.3M295.8 365.5v8.3M303.5 367.5h8.3M307.7 363.3v8.3M319.3 364.5h8.3M323.5 360.3v8.3M254.8 374.8h8.3M259 370.6v8.3M275.8 374h8.3M280 369.8v8.3M272.6 376.5h8.3M276.8 372.3v8.3M269.1 381.2h8.3M273.3 377v8.3M297.8 378.5h8.3M302 374.3v8.3M309.1 375.3h8.3M313.3 371.1v8.3M318.1 374.5h8.3M322.3 370.3v8.3M315.8 379h8.3M320 374.8v8.3M296.3 383.3h8.3M300.5 379.1v8.3M343.3 379h8.3M347.5 374.8v8.3M300.8 385h8.3M305 380.8v8.3M308.8 385h8.3M313 380.8v8.3M316.8 385h8.3M321 380.8v8.3M283.8 390.5h8.3M288 386.3v8.3M283.8 395h8.3M288 390.8v8.3M291.8 391h8.3M296 386.8v8.3M295.8 389h8.3M300 384.8v8.3M302.8 394h8.3M307 389.8v8.3M309.8 389h8.3M314 384.8v8.3M315.8 392h8.3M320 387.8v8.3M325.3 391.5h8.3M329.5 387.3v8.3M310.8 398.5h8.3M315 394.3v8.3M291.8 397h8.3M296 392.8v8.3M279.8 405.5h8.3M284 401.3v8.3M291.8 405h8.3M296 400.8v8.3M319.8 402.5h8.3M324 398.3v8.3M349.8 400.5h8.3M354 396.3v8.3M312.8 427.7h8.3M317 423.5v8.3M294.8 386h8.3M299 381.8v8.3M299.8 387h8.3M304 382.8v8.3M304.8 386.5h8.3M309 382.3v8.3M310.8 387h8.3M315 382.8v8.3M316.3 386.5h8.3M320.5 382.3v8.3M320.8 386h8.3M325 381.8v8.3M318.3 381h8.3M322.5 376.8v8.3M307.6 375.5h8.3M311.8 371.3v8.3M310.8 374.8h8.3M315 370.6v8.3M298.4 379h8.3M302.6 374.8v8.3M309.4 385.6h8.3M313.6 381.4v8.3M292.4 397.6h8.3M296.6 393.4v8.3M296.4 389.6h8.3M300.6 385.4v8.3M303.4 394.6h8.3M307.6 390.4v8.3"/>
</g>
<g clip-path="url(#c)" fill="#ff7f0e" stroke="#ff7f0e" stroke-width="1.1">
<circle cx="432.5" cy="77.3" r="4.167"/><circle cx="423.3" cy="89" r="4.167"/><circle cx="436.5" cy="89.5" r="4.167"/><circle cx="443.5" cy="92" r="4.167"/><circle cx="443" cy="100" r="4.167"/><circle cx="383" cy="104.5" r="4.167"/><circle cx="379" cy="112" r="4.167"/><circle cx="443.5" cy="114" r="4.167"/><circle cx="447.5" cy="146.5" r="4.167"/><circle cx="435.5" cy="130" r="4.167"/><circle cx="426" cy="123" r="4.167"/><circle cx="425" cy="134" r="4.167"/><circle cx="384" cy="126" r="4.167"/><circle cx="380" cy="135.5" r="4.167"/><circle cx="376" cy="117" r="4.167"/><circle cx="382" cy="110" r="4.167"/><circle cx="405.2" cy="98.4" r="4.167"/><circle cx="410" cy="100.8" r="4.167"/><circle cx="413.2" cy="104" r="4.167"/><circle cx="400.4" cy="103.2" r="4.167"/><circle cx="395.6" cy="110.4" r="4.167"/><circle cx="428.4" cy="97.6" r="4.167"/><circle cx="426" cy="104" r="4.167"/><circle cx="430.8" cy="107.2" r="4.167"/><circle cx="426" cy="112" r="4.167"/><circle cx="406" cy="108" r="4.167"/><circle cx="413" cy="112" r="4.167"/><circle cx="402" cy="114.4" r="4.167"/><circle cx="396.4" cy="109.8" r="4.167"/><circle cx="403.6" cy="109.8" r="4.167"/><circle cx="410" cy="109.8" r="4.167"/><circle cx="430.8" cy="109.8" r="4.167"/><circle cx="420" cy="104" r="4.167"/><circle cx="408.4" cy="123.4" r="4.167"/><circle cx="413.2" cy="129" r="4.167"/><circle cx="408.4" cy="135.4" r="4.167"/><circle cx="414.8" cy="136.2" r="4.167"/><circle cx="419.6" cy="135.4" r="4.167"/><circle cx="410" cy="117" r="4.167"/><circle cx="414.8" cy="121" r="4.167"/><circle cx="407" cy="129" r="4.167"/><circle cx="412" cy="133" r="4.167"/><circle cx="409" cy="119" r="4.167"/><circle cx="408" cy="104" r="4.167"/><circle cx="412" cy="108" r="4.167"/><circle cx="404" cy="106" r="4.167"/><circle cx="424" cy="108" r="4.167"/><circle cx="428" cy="102" r="4.167"/><circle cx="411" cy="126" r="4.167"/><circle cx="410" cy="131" r="4.167"/><circle cx="647.4" cy="136.4" r="4.167"/><circle cx="700.4" cy="141.2" r="4.167"/><circle cx="702.4" cy="154.4" r="4.167"/><circle cx="742.2" cy="161" r="4.167"/><circle cx="744" cy="162" r="4.167"/><circle cx="754.4" cy="162.4" r="4.167"/><circle cx="794.2" cy="166.2" r="4.167"/><circle cx="677.4" cy="172.4" r="4.167"/><circle cx="726.4" cy="182.4" r="4.167"/><circle cx="741.4" cy="179.4" r="4.167"/><circle cx="790.4" cy="189.4" r="4.167"/><circle cx="630.4" cy="195.4" r="4.167"/><circle cx="770.4" cy="197.2" r="4.167"/><circle cx="865.4" cy="200.4" r="4.167"/><circle cx="646.2" cy="214.2" r="4.167"/><circle cx="737.4" cy="216.2" r="4.167"/><circle cx="783.2" cy="215.2" r="4.167"/><circle cx="574.4" cy="231.2" r="4.167"/><circle cx="589.2" cy="249" r="4.167"/><circle cx="589.2" cy="257" r="4.167"/><circle cx="711.4" cy="226.2" r="4.167"/><circle cx="690.2" cy="233.2" r="4.167"/><circle cx="678.2" cy="237.2" r="4.167"/><circle cx="729.4" cy="234.2" r="4.167"/><circle cx="739.4" cy="231.2" r="4.167"/><circle cx="781.4" cy="230.4" r="4.167"/><circle cx="708" cy="242.6" r="4.167"/><circle cx="705.6" cy="247.4" r="4.167"/><circle cx="663.2" cy="253.6" r="4.167"/><circle cx="792.4" cy="246.2" r="4.167"/><circle cx="804.2" cy="255.2" r="4.167"/><circle cx="704" cy="259.4" r="4.167"/><circle cx="709" cy="265" r="4.167"/><circle cx="715" cy="270" r="4.167"/><circle cx="668.4" cy="265" r="4.167"/><circle cx="675.6" cy="267.4" r="4.167"/><circle cx="691.2" cy="267.4" r="4.167"/><circle cx="745.8" cy="271" r="4.167"/><circle cx="721" cy="278.2" r="4.167"/><circle cx="658" cy="279" r="4.167"/><circle cx="679.4" cy="284" r="4.167"/><circle cx="706" cy="285" r="4.167"/><circle cx="749.6" cy="285.2" r="4.167"/><circle cx="617.2" cy="288" r="4.167"/><circle cx="642.3" cy="298.2" r="4.167"/><circle cx="656.2" cy="327.2" r="4.167"/><circle cx="680.2" cy="341.2" r="4.167"/><circle cx="731.2" cy="338.4" r="4.167"/><circle cx="811.4" cy="339.2" r="4.167"/><circle cx="821.4" cy="332.2" r="4.167"/>
</g>
<rect x="125.5" y="60.5" width="775" height="385" fill="none" stroke="#000" stroke-width="1.111"/>
<g stroke="#000" stroke-width="1.111">
<path d="M129.5 445.5v4.86"/><path d="M250.5 445.5v4.86"/><path d="M370.5 445.5v4.86"/><path d="M490.5 445.5v4.86"/><path d="M610.5 445.5v4.86"/><path d="M730.5 445.5v4.86"/><path d="M851.5 445.5v4.86"/><path d="M125.5 92.5h-4.86"/><path d="M125.5 141.5h-4.86"/><path d="M125.5 190.5h-4.86"/><path d="M125.5 239.5h-4.86"/><path d="M125.5 287.5h-4.86"/><path d="M125.5 336.5h-4.86"/><path d="M125.5 385.5h-4.86"/><path d="M125.5 434.5h-4.86"/>
</g>
<g font-size="13.889px" text-anchor="middle">
<text x="129.45" y="465.98">−2</text><text x="249.65" y="465.98">0</text><text x="369.85" y="465.98">2</text><text x="490.05" y="465.98">4</text><text x="610.25" y="465.98">6</text><text x="730.45" y="465.98">8</text><text x="850.65" y="465.98">10</text>
</g>
<g font-size="13.889px" text-anchor="end">
<text x="115.28" y="97.97">5</text><text x="115.28" y="146.83">4</text><text x="115.28" y="195.69">3</text><text x="115.28" y="244.55">2</text><text x="115.28" y="293.40">1</text><text x="115.28" y="342.26">0</text><text x="115.28" y="391.12">−1</text><text x="115.28" y="439.97">−2</text>
</g>
<text x="512.5" y="51.67" font-size="16.667px" text-anchor="middle">Source and target distributions</text>
<rect x="733.5" y="67.5" width="159.8" height="45.3" rx="2.78" fill="#fff" fill-opacity="0.8" stroke="#ccc" stroke-opacity="0.8" stroke-width="1.111"/>
<path d="M749.13 79.80h8.334M753.30 75.63v8.334" stroke="#1f77b4" stroke-width="2.083" fill="none"/>
<circle cx="753.5" cy="101.3" r="4.167" fill="#ff7f0e" stroke="#ff7f0e" stroke-width="1.389"/>
<text x="777.66" y="83.05" font-size="13.889px">Source samples</text>
<text x="777.66" y="103.7" font-size="13.889px">Target samples</text>
</svg>
</body></html>
